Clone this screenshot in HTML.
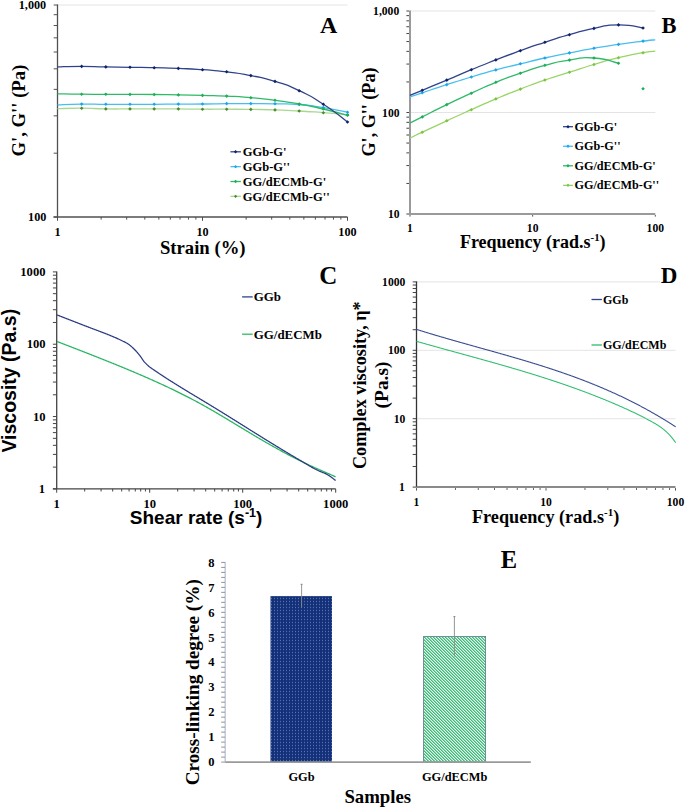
<!DOCTYPE html>
<html><head><meta charset="utf-8"><style>
html,body{margin:0;padding:0;background:#fff;}
svg{display:block;}
</style></head><body>
<svg width="685" height="811" viewBox="0 0 685 811">
<rect width="685" height="811" fill="#fff"/>
<line x1="57.50" y1="5.00" x2="347.50" y2="5.00" stroke="#e4e4e4" stroke-width="1"/>
<line x1="57.50" y1="4.50" x2="57.50" y2="217.00" stroke="#505050" stroke-width="1.3"/>
<line x1="53.50" y1="217.00" x2="347.50" y2="217.00" stroke="#505050" stroke-width="1.3"/>
<line x1="53.70" y1="217.00" x2="57.50" y2="217.00" stroke="#505050" stroke-width="1"/>
<line x1="53.70" y1="153.18" x2="57.50" y2="153.18" stroke="#505050" stroke-width="1"/>
<line x1="53.70" y1="115.85" x2="57.50" y2="115.85" stroke="#505050" stroke-width="1"/>
<line x1="53.70" y1="89.36" x2="57.50" y2="89.36" stroke="#505050" stroke-width="1"/>
<line x1="53.70" y1="68.82" x2="57.50" y2="68.82" stroke="#505050" stroke-width="1"/>
<line x1="53.70" y1="52.03" x2="57.50" y2="52.03" stroke="#505050" stroke-width="1"/>
<line x1="53.70" y1="37.84" x2="57.50" y2="37.84" stroke="#505050" stroke-width="1"/>
<line x1="53.70" y1="25.54" x2="57.50" y2="25.54" stroke="#505050" stroke-width="1"/>
<line x1="53.70" y1="14.70" x2="57.50" y2="14.70" stroke="#505050" stroke-width="1"/>
<line x1="53.70" y1="5.00" x2="57.50" y2="5.00" stroke="#505050" stroke-width="1"/>
<line x1="57.50" y1="217.00" x2="57.50" y2="220.80" stroke="#505050" stroke-width="1"/>
<line x1="101.15" y1="217.00" x2="101.15" y2="219.60" stroke="#505050" stroke-width="1"/>
<line x1="126.68" y1="217.00" x2="126.68" y2="219.60" stroke="#505050" stroke-width="1"/>
<line x1="144.80" y1="217.00" x2="144.80" y2="219.60" stroke="#505050" stroke-width="1"/>
<line x1="158.85" y1="217.00" x2="158.85" y2="219.60" stroke="#505050" stroke-width="1"/>
<line x1="170.33" y1="217.00" x2="170.33" y2="219.60" stroke="#505050" stroke-width="1"/>
<line x1="180.04" y1="217.00" x2="180.04" y2="219.60" stroke="#505050" stroke-width="1"/>
<line x1="188.45" y1="217.00" x2="188.45" y2="219.60" stroke="#505050" stroke-width="1"/>
<line x1="195.87" y1="217.00" x2="195.87" y2="219.60" stroke="#505050" stroke-width="1"/>
<line x1="202.50" y1="217.00" x2="202.50" y2="220.80" stroke="#505050" stroke-width="1"/>
<line x1="246.15" y1="217.00" x2="246.15" y2="219.60" stroke="#505050" stroke-width="1"/>
<line x1="271.68" y1="217.00" x2="271.68" y2="219.60" stroke="#505050" stroke-width="1"/>
<line x1="289.80" y1="217.00" x2="289.80" y2="219.60" stroke="#505050" stroke-width="1"/>
<line x1="303.85" y1="217.00" x2="303.85" y2="219.60" stroke="#505050" stroke-width="1"/>
<line x1="315.33" y1="217.00" x2="315.33" y2="219.60" stroke="#505050" stroke-width="1"/>
<line x1="325.04" y1="217.00" x2="325.04" y2="219.60" stroke="#505050" stroke-width="1"/>
<line x1="333.45" y1="217.00" x2="333.45" y2="219.60" stroke="#505050" stroke-width="1"/>
<line x1="340.87" y1="217.00" x2="340.87" y2="219.60" stroke="#505050" stroke-width="1"/>
<line x1="347.50" y1="217.00" x2="347.50" y2="220.80" stroke="#505050" stroke-width="1"/>
<text x="46.20" y="9.10" text-anchor="end" style="font-family:'Liberation Serif',serif;font-weight:bold;font-size:12.2px" fill="#000" >1,000</text>
<text x="46.40" y="221.10" text-anchor="end" style="font-family:'Liberation Serif',serif;font-weight:bold;font-size:12.2px" fill="#000" >100</text>
<text x="57.50" y="236.30" text-anchor="middle" style="font-family:'Liberation Serif',serif;font-weight:bold;font-size:12.2px" fill="#000" >1</text>
<text x="202.50" y="236.30" text-anchor="middle" style="font-family:'Liberation Serif',serif;font-weight:bold;font-size:12.2px" fill="#000" >10</text>
<text x="347.50" y="236.30" text-anchor="middle" style="font-family:'Liberation Serif',serif;font-weight:bold;font-size:12.2px" fill="#000" >100</text>
<text x="202.75" y="253.90" text-anchor="middle" style="font-family:'Liberation Serif',serif;font-weight:bold;font-size:18.7px" fill="#000" >Strain (%)</text>
<text transform="translate(25.30,110.60) rotate(-90)" x="0" y="0" text-anchor="middle" style="font-family:'Liberation Serif',serif;font-weight:bold;font-size:18.7px">G', G'' (Pa)</text>
<text x="328.70" y="33.30" text-anchor="middle" style="font-family:'Liberation Serif',serif;font-weight:bold;font-size:24px" fill="#000" >A</text>
<path d="M57.50,108.70 C65.56,108.53 65.56,108.13 81.67,108.20 C97.78,108.27 89.72,108.67 105.83,108.90 C121.94,109.13 113.89,108.90 130.00,108.90 C146.11,108.90 138.06,108.90 154.17,108.90 C170.28,108.90 162.22,108.80 178.33,108.90 C194.44,109.00 186.39,109.10 202.50,109.20 C218.61,109.30 210.56,109.13 226.67,109.20 C242.78,109.27 234.72,109.17 250.83,109.40 C266.94,109.63 258.89,109.37 275.00,109.90 C291.11,110.43 283.06,110.07 299.17,111.00 C315.28,111.93 307.22,111.43 323.33,112.70 C339.44,113.97 339.44,114.10 347.50,114.80" fill="none" stroke="#a8d890" stroke-width="1.3" stroke-linejoin="round"/>
<path d="M81.67,106.38L83.49,108.20L81.67,110.02L79.85,108.20Z" fill="#4f8a32"/>
<path d="M105.83,107.08L107.65,108.90L105.83,110.72L104.01,108.90Z" fill="#4f8a32"/>
<path d="M130.00,107.08L131.82,108.90L130.00,110.72L128.18,108.90Z" fill="#4f8a32"/>
<path d="M154.17,107.08L155.99,108.90L154.17,110.72L152.35,108.90Z" fill="#4f8a32"/>
<path d="M178.33,107.08L180.15,108.90L178.33,110.72L176.51,108.90Z" fill="#4f8a32"/>
<path d="M202.50,107.38L204.32,109.20L202.50,111.02L200.68,109.20Z" fill="#4f8a32"/>
<path d="M226.67,107.38L228.49,109.20L226.67,111.02L224.85,109.20Z" fill="#4f8a32"/>
<path d="M250.83,107.58L252.65,109.40L250.83,111.22L249.01,109.40Z" fill="#4f8a32"/>
<path d="M275.00,108.08L276.82,109.90L275.00,111.72L273.18,109.90Z" fill="#4f8a32"/>
<path d="M299.17,109.18L300.99,111.00L299.17,112.82L297.35,111.00Z" fill="#4f8a32"/>
<path d="M323.33,110.88L325.15,112.70L323.33,114.52L321.51,112.70Z" fill="#4f8a32"/>
<path d="M347.50,112.98L349.32,114.80L347.50,116.62L345.68,114.80Z" fill="#4f8a32"/>
<path d="M57.50,105.00 C65.56,104.70 65.56,104.33 81.67,104.10 C97.78,103.87 89.72,104.23 105.83,104.30 C121.94,104.37 113.89,104.30 130.00,104.30 C146.11,104.30 138.06,104.37 154.17,104.30 C170.28,104.23 162.22,104.20 178.33,104.10 C194.44,104.00 186.39,104.17 202.50,104.00 C218.61,103.83 210.56,103.73 226.67,103.60 C242.78,103.47 234.72,103.53 250.83,103.60 C266.94,103.67 258.89,103.50 275.00,103.80 C291.11,104.10 283.06,103.23 299.17,104.50 C315.28,105.77 307.22,105.03 323.33,107.60 C339.44,110.17 339.44,110.67 347.50,112.20" fill="none" stroke="#48bef0" stroke-width="1.3" stroke-linejoin="round"/>
<path d="M81.67,102.28L83.49,104.10L81.67,105.92L79.85,104.10Z" fill="#1aa6ee"/>
<path d="M105.83,102.48L107.65,104.30L105.83,106.12L104.01,104.30Z" fill="#1aa6ee"/>
<path d="M130.00,102.48L131.82,104.30L130.00,106.12L128.18,104.30Z" fill="#1aa6ee"/>
<path d="M154.17,102.48L155.99,104.30L154.17,106.12L152.35,104.30Z" fill="#1aa6ee"/>
<path d="M178.33,102.28L180.15,104.10L178.33,105.92L176.51,104.10Z" fill="#1aa6ee"/>
<path d="M202.50,102.18L204.32,104.00L202.50,105.82L200.68,104.00Z" fill="#1aa6ee"/>
<path d="M226.67,101.78L228.49,103.60L226.67,105.42L224.85,103.60Z" fill="#1aa6ee"/>
<path d="M250.83,101.78L252.65,103.60L250.83,105.42L249.01,103.60Z" fill="#1aa6ee"/>
<path d="M275.00,101.98L276.82,103.80L275.00,105.62L273.18,103.80Z" fill="#1aa6ee"/>
<path d="M299.17,102.68L300.99,104.50L299.17,106.32L297.35,104.50Z" fill="#1aa6ee"/>
<path d="M323.33,105.78L325.15,107.60L323.33,109.42L321.51,107.60Z" fill="#1aa6ee"/>
<path d="M347.50,110.38L349.32,112.20L347.50,114.02L345.68,112.20Z" fill="#1aa6ee"/>
<path d="M57.50,93.80 C65.56,93.93 65.56,94.03 81.67,94.20 C97.78,94.37 89.72,94.23 105.83,94.30 C121.94,94.37 113.89,94.33 130.00,94.40 C146.11,94.47 138.06,94.33 154.17,94.50 C170.28,94.67 162.22,94.60 178.33,94.90 C194.44,95.20 186.39,95.00 202.50,95.40 C218.61,95.80 210.56,95.33 226.67,96.10 C242.78,96.87 234.72,96.30 250.83,97.70 C266.94,99.10 258.89,98.20 275.00,100.30 C291.11,102.40 283.06,101.10 299.17,104.00 C315.28,106.90 307.22,105.23 323.33,109.00 C339.44,112.77 339.44,113.20 347.50,115.30" fill="none" stroke="#2fba68" stroke-width="1.3" stroke-linejoin="round"/>
<path d="M81.67,92.38L83.49,94.20L81.67,96.02L79.85,94.20Z" fill="#20ad5a"/>
<path d="M105.83,92.48L107.65,94.30L105.83,96.12L104.01,94.30Z" fill="#20ad5a"/>
<path d="M130.00,92.58L131.82,94.40L130.00,96.22L128.18,94.40Z" fill="#20ad5a"/>
<path d="M154.17,92.68L155.99,94.50L154.17,96.32L152.35,94.50Z" fill="#20ad5a"/>
<path d="M178.33,93.08L180.15,94.90L178.33,96.72L176.51,94.90Z" fill="#20ad5a"/>
<path d="M202.50,93.58L204.32,95.40L202.50,97.22L200.68,95.40Z" fill="#20ad5a"/>
<path d="M226.67,94.28L228.49,96.10L226.67,97.92L224.85,96.10Z" fill="#20ad5a"/>
<path d="M250.83,95.88L252.65,97.70L250.83,99.52L249.01,97.70Z" fill="#20ad5a"/>
<path d="M275.00,98.48L276.82,100.30L275.00,102.12L273.18,100.30Z" fill="#20ad5a"/>
<path d="M299.17,102.18L300.99,104.00L299.17,105.82L297.35,104.00Z" fill="#20ad5a"/>
<path d="M323.33,107.18L325.15,109.00L323.33,110.82L321.51,109.00Z" fill="#20ad5a"/>
<path d="M347.50,113.48L349.32,115.30L347.50,117.12L345.68,115.30Z" fill="#20ad5a"/>
<path d="M57.50,66.90 C65.56,66.73 65.56,66.40 81.67,66.40 C97.78,66.40 89.72,66.60 105.83,66.90 C121.94,67.20 113.89,67.03 130.00,67.30 C146.11,67.57 138.06,67.33 154.17,67.70 C170.28,68.07 162.22,67.73 178.33,68.40 C194.44,69.07 186.39,68.57 202.50,69.70 C218.61,70.83 210.56,69.83 226.67,71.80 C242.78,73.77 234.72,72.40 250.83,75.60 C266.94,78.80 258.89,76.37 275.00,81.40 C291.11,86.43 283.06,83.07 299.17,90.70 C315.28,98.33 307.22,93.87 323.33,104.30 C339.44,114.73 339.44,116.10 347.50,122.00" fill="none" stroke="#30438a" stroke-width="1.3" stroke-linejoin="round"/>
<path d="M81.67,64.58L83.49,66.40L81.67,68.22L79.85,66.40Z" fill="#0f236b"/>
<path d="M105.83,65.08L107.65,66.90L105.83,68.72L104.01,66.90Z" fill="#0f236b"/>
<path d="M130.00,65.48L131.82,67.30L130.00,69.12L128.18,67.30Z" fill="#0f236b"/>
<path d="M154.17,65.88L155.99,67.70L154.17,69.52L152.35,67.70Z" fill="#0f236b"/>
<path d="M178.33,66.58L180.15,68.40L178.33,70.22L176.51,68.40Z" fill="#0f236b"/>
<path d="M202.50,67.88L204.32,69.70L202.50,71.52L200.68,69.70Z" fill="#0f236b"/>
<path d="M226.67,69.98L228.49,71.80L226.67,73.62L224.85,71.80Z" fill="#0f236b"/>
<path d="M250.83,73.78L252.65,75.60L250.83,77.42L249.01,75.60Z" fill="#0f236b"/>
<path d="M275.00,79.58L276.82,81.40L275.00,83.22L273.18,81.40Z" fill="#0f236b"/>
<path d="M299.17,88.88L300.99,90.70L299.17,92.52L297.35,90.70Z" fill="#0f236b"/>
<path d="M323.33,102.48L325.15,104.30L323.33,106.12L321.51,104.30Z" fill="#0f236b"/>
<path d="M347.50,120.18L349.32,122.00L347.50,123.82L345.68,122.00Z" fill="#0f236b"/>
<line x1="230.40" y1="151.80" x2="240.90" y2="151.80" stroke="#30438a" stroke-width="1.3"/>
<path d="M235.60,150.11L237.29,151.80L235.60,153.49L233.91,151.80Z" fill="#0f236b"/>
<text x="242.80" y="156.00" text-anchor="start" style="font-family:'Liberation Serif',serif;font-weight:bold;font-size:12.5px" fill="#000" >GGb-G'</text>
<line x1="230.40" y1="166.65" x2="240.90" y2="166.65" stroke="#48bef0" stroke-width="1.3"/>
<path d="M235.60,164.96L237.29,166.65L235.60,168.34L233.91,166.65Z" fill="#1aa6ee"/>
<text x="242.80" y="170.85" text-anchor="start" style="font-family:'Liberation Serif',serif;font-weight:bold;font-size:12.5px" fill="#000" >GGb-G''</text>
<line x1="230.40" y1="181.50" x2="240.90" y2="181.50" stroke="#2fba68" stroke-width="1.3"/>
<path d="M235.60,179.81L237.29,181.50L235.60,183.19L233.91,181.50Z" fill="#20ad5a"/>
<text x="242.80" y="185.70" text-anchor="start" style="font-family:'Liberation Serif',serif;font-weight:bold;font-size:12.5px" fill="#000" >GG/dECMb-G'</text>
<line x1="230.40" y1="196.35" x2="240.90" y2="196.35" stroke="#a8d890" stroke-width="1.3"/>
<path d="M235.60,194.66L237.29,196.35L235.60,198.04L233.91,196.35Z" fill="#4f8a32"/>
<text x="242.80" y="200.55" text-anchor="start" style="font-family:'Liberation Serif',serif;font-weight:bold;font-size:12.5px" fill="#000" >GG/dECMb-G''</text>
<line x1="410.00" y1="11.00" x2="655.30" y2="11.00" stroke="#e4e4e4" stroke-width="1"/>
<line x1="410.00" y1="112.50" x2="655.30" y2="112.50" stroke="#e4e4e4" stroke-width="1"/>
<line x1="410.00" y1="10.50" x2="410.00" y2="215.00" stroke="#9a9a9a" stroke-width="2"/>
<line x1="410.00" y1="214.00" x2="655.30" y2="214.00" stroke="#9a9a9a" stroke-width="2"/>
<line x1="406.40" y1="214.00" x2="409.00" y2="214.00" stroke="#444" stroke-width="1"/>
<line x1="406.40" y1="183.45" x2="409.00" y2="183.45" stroke="#444" stroke-width="1"/>
<line x1="406.40" y1="165.57" x2="409.00" y2="165.57" stroke="#444" stroke-width="1"/>
<line x1="406.40" y1="152.89" x2="409.00" y2="152.89" stroke="#444" stroke-width="1"/>
<line x1="406.40" y1="143.05" x2="409.00" y2="143.05" stroke="#444" stroke-width="1"/>
<line x1="406.40" y1="135.02" x2="409.00" y2="135.02" stroke="#444" stroke-width="1"/>
<line x1="406.40" y1="128.22" x2="409.00" y2="128.22" stroke="#444" stroke-width="1"/>
<line x1="406.40" y1="122.34" x2="409.00" y2="122.34" stroke="#444" stroke-width="1"/>
<line x1="406.40" y1="117.14" x2="409.00" y2="117.14" stroke="#444" stroke-width="1"/>
<line x1="406.40" y1="112.50" x2="409.00" y2="112.50" stroke="#444" stroke-width="1"/>
<line x1="406.40" y1="81.95" x2="409.00" y2="81.95" stroke="#444" stroke-width="1"/>
<line x1="406.40" y1="64.07" x2="409.00" y2="64.07" stroke="#444" stroke-width="1"/>
<line x1="406.40" y1="51.39" x2="409.00" y2="51.39" stroke="#444" stroke-width="1"/>
<line x1="406.40" y1="41.55" x2="409.00" y2="41.55" stroke="#444" stroke-width="1"/>
<line x1="406.40" y1="33.52" x2="409.00" y2="33.52" stroke="#444" stroke-width="1"/>
<line x1="406.40" y1="26.72" x2="409.00" y2="26.72" stroke="#444" stroke-width="1"/>
<line x1="406.40" y1="20.84" x2="409.00" y2="20.84" stroke="#444" stroke-width="1"/>
<line x1="406.40" y1="15.64" x2="409.00" y2="15.64" stroke="#444" stroke-width="1"/>
<line x1="406.40" y1="11.00" x2="409.00" y2="11.00" stroke="#444" stroke-width="1"/>
<line x1="410.00" y1="215.00" x2="410.00" y2="216.60" stroke="#555" stroke-width="1"/>
<line x1="532.65" y1="215.00" x2="532.65" y2="216.60" stroke="#555" stroke-width="1"/>
<line x1="655.30" y1="215.00" x2="655.30" y2="216.60" stroke="#555" stroke-width="1"/>
<text x="399.20" y="15.00" text-anchor="end" style="font-family:'Liberation Serif',serif;font-weight:bold;font-size:11.6px" fill="#000" >1,000</text>
<text x="399.50" y="116.50" text-anchor="end" style="font-family:'Liberation Serif',serif;font-weight:bold;font-size:11.6px" fill="#000" >100</text>
<text x="399.50" y="218.00" text-anchor="end" style="font-family:'Liberation Serif',serif;font-weight:bold;font-size:11.6px" fill="#000" >10</text>
<text x="410.00" y="231.60" text-anchor="middle" style="font-family:'Liberation Serif',serif;font-weight:bold;font-size:11.6px" fill="#000" >1</text>
<text x="532.65" y="231.60" text-anchor="middle" style="font-family:'Liberation Serif',serif;font-weight:bold;font-size:11.6px" fill="#000" >10</text>
<text x="655.30" y="231.60" text-anchor="middle" style="font-family:'Liberation Serif',serif;font-weight:bold;font-size:11.6px" fill="#000" >100</text>
<text x="459.9" y="247.8" style="font-family:'Liberation Serif',serif;font-weight:bold;font-size:18px">Frequency (rad.s<tspan dy="-6.5" style="font-size:10.8px">-1</tspan><tspan dy="6.5">)</tspan></text>
<text transform="translate(374.60,112.00) rotate(-90)" x="0" y="0" text-anchor="middle" style="font-family:'Liberation Serif',serif;font-weight:bold;font-size:18.1px">G', G'' (Pa)</text>
<text x="669.10" y="33.00" text-anchor="middle" style="font-family:'Liberation Serif',serif;font-weight:bold;font-size:22.5px" fill="#000" >B</text>
<path d="M410.00,138.10 C414.09,136.13 410.00,137.97 422.26,132.20 C434.53,126.43 430.44,128.30 446.80,120.80 C463.15,113.30 454.97,117.00 471.32,109.70 C487.68,102.40 479.50,105.77 495.86,98.90 C512.21,92.03 504.03,95.40 520.38,89.10 C536.74,82.80 528.56,85.63 544.91,80.00 C561.27,74.37 553.09,77.37 569.45,72.20 C585.80,67.03 577.62,69.33 593.98,64.50 C610.33,59.67 602.15,61.63 618.50,57.70 C634.86,53.77 630.77,54.87 643.04,52.70 C655.30,50.53 651.21,51.70 655.30,51.20" fill="none" stroke="#9ad468" stroke-width="1.3" stroke-linejoin="round"/>
<path d="M422.26,130.38L424.08,132.20L422.26,134.02L420.44,132.20Z" fill="#7cc440"/>
<path d="M446.80,118.98L448.62,120.80L446.80,122.62L444.98,120.80Z" fill="#7cc440"/>
<path d="M471.32,107.88L473.14,109.70L471.32,111.52L469.50,109.70Z" fill="#7cc440"/>
<path d="M495.86,97.08L497.68,98.90L495.86,100.72L494.04,98.90Z" fill="#7cc440"/>
<path d="M520.38,87.28L522.21,89.10L520.38,90.92L518.56,89.10Z" fill="#7cc440"/>
<path d="M544.91,78.18L546.74,80.00L544.91,81.82L543.09,80.00Z" fill="#7cc440"/>
<path d="M569.45,70.38L571.27,72.20L569.45,74.02L567.62,72.20Z" fill="#7cc440"/>
<path d="M593.98,62.68L595.80,64.50L593.98,66.32L592.15,64.50Z" fill="#7cc440"/>
<path d="M618.50,55.88L620.33,57.70L618.50,59.52L616.68,57.70Z" fill="#7cc440"/>
<path d="M643.04,50.88L644.86,52.70L643.04,54.52L641.22,52.70Z" fill="#7cc440"/>
<path d="M410.00,96.90 C414.09,95.53 410.00,96.90 422.26,92.80 C434.53,88.70 430.44,89.87 446.80,84.60 C463.15,79.33 454.97,81.90 471.32,77.00 C487.68,72.10 479.50,74.30 495.86,69.90 C512.21,65.50 504.03,67.77 520.38,63.80 C536.74,59.83 528.56,61.63 544.91,58.00 C561.27,54.37 553.09,56.13 569.45,52.90 C585.80,49.67 577.62,51.13 593.98,48.30 C610.33,45.47 602.15,46.80 618.50,44.40 C634.86,42.00 630.77,42.63 643.04,41.10 C655.30,39.57 651.21,40.23 655.30,39.80" fill="none" stroke="#48bef0" stroke-width="1.3" stroke-linejoin="round"/>
<path d="M422.26,90.98L424.08,92.80L422.26,94.62L420.44,92.80Z" fill="#1aa6ee"/>
<path d="M446.80,82.78L448.62,84.60L446.80,86.42L444.98,84.60Z" fill="#1aa6ee"/>
<path d="M471.32,75.18L473.14,77.00L471.32,78.82L469.50,77.00Z" fill="#1aa6ee"/>
<path d="M495.86,68.08L497.68,69.90L495.86,71.72L494.04,69.90Z" fill="#1aa6ee"/>
<path d="M520.38,61.98L522.21,63.80L520.38,65.62L518.56,63.80Z" fill="#1aa6ee"/>
<path d="M544.91,56.18L546.74,58.00L544.91,59.82L543.09,58.00Z" fill="#1aa6ee"/>
<path d="M569.45,51.08L571.27,52.90L569.45,54.72L567.62,52.90Z" fill="#1aa6ee"/>
<path d="M593.98,46.48L595.80,48.30L593.98,50.12L592.15,48.30Z" fill="#1aa6ee"/>
<path d="M618.50,42.58L620.33,44.40L618.50,46.22L616.68,44.40Z" fill="#1aa6ee"/>
<path d="M643.04,39.28L644.86,41.10L643.04,42.92L641.22,41.10Z" fill="#1aa6ee"/>
<path d="M410.00,123.00 C414.09,120.97 410.00,123.03 422.26,116.90 C434.53,110.77 430.44,112.50 446.80,104.60 C463.15,96.70 454.97,100.63 471.32,93.20 C487.68,85.77 479.50,88.97 495.86,82.30 C512.21,75.63 504.03,78.87 520.38,73.20 C536.74,67.53 528.56,69.67 544.91,65.30 C561.27,60.93 553.09,62.53 569.45,60.10 C585.80,57.67 577.62,56.97 593.98,58.00 C610.33,59.03 610.33,61.47 618.50,63.20" fill="none" stroke="#2fba68" stroke-width="1.3" stroke-linejoin="round"/>
<path d="M422.26,115.08L424.08,116.90L422.26,118.72L420.44,116.90Z" fill="#20ad5a"/>
<path d="M446.80,102.78L448.62,104.60L446.80,106.42L444.98,104.60Z" fill="#20ad5a"/>
<path d="M471.32,91.38L473.14,93.20L471.32,95.02L469.50,93.20Z" fill="#20ad5a"/>
<path d="M495.86,80.48L497.68,82.30L495.86,84.12L494.04,82.30Z" fill="#20ad5a"/>
<path d="M520.38,71.38L522.21,73.20L520.38,75.02L518.56,73.20Z" fill="#20ad5a"/>
<path d="M544.91,63.48L546.74,65.30L544.91,67.12L543.09,65.30Z" fill="#20ad5a"/>
<path d="M569.45,58.28L571.27,60.10L569.45,61.92L567.62,60.10Z" fill="#20ad5a"/>
<path d="M593.98,56.18L595.80,58.00L593.98,59.82L592.15,58.00Z" fill="#20ad5a"/>
<path d="M618.50,61.38L620.33,63.20L618.50,65.02L616.68,63.20Z" fill="#20ad5a"/>
<path d="M643.04,86.98L644.86,88.80L643.04,90.62L641.22,88.80Z" fill="#20ad5a"/>
<path d="M410.00,95.40 C414.09,93.70 410.00,95.40 422.26,90.30 C434.53,85.20 430.44,86.97 446.80,80.10 C463.15,73.23 454.97,76.43 471.32,69.70 C487.68,62.97 479.50,66.23 495.86,59.90 C512.21,53.57 504.03,56.57 520.38,50.70 C536.74,44.83 528.56,47.63 544.91,42.30 C561.27,36.97 553.09,39.33 569.45,34.70 C585.80,30.07 577.62,31.67 593.98,28.40 C610.33,25.13 602.15,25.03 618.50,24.90 C634.86,24.77 634.86,26.97 643.04,28.00" fill="none" stroke="#30438a" stroke-width="1.3" stroke-linejoin="round"/>
<path d="M422.26,88.48L424.08,90.30L422.26,92.12L420.44,90.30Z" fill="#0f236b"/>
<path d="M446.80,78.28L448.62,80.10L446.80,81.92L444.98,80.10Z" fill="#0f236b"/>
<path d="M471.32,67.88L473.14,69.70L471.32,71.52L469.50,69.70Z" fill="#0f236b"/>
<path d="M495.86,58.08L497.68,59.90L495.86,61.72L494.04,59.90Z" fill="#0f236b"/>
<path d="M520.38,48.88L522.21,50.70L520.38,52.52L518.56,50.70Z" fill="#0f236b"/>
<path d="M544.91,40.48L546.74,42.30L544.91,44.12L543.09,42.30Z" fill="#0f236b"/>
<path d="M569.45,32.88L571.27,34.70L569.45,36.52L567.62,34.70Z" fill="#0f236b"/>
<path d="M593.98,26.58L595.80,28.40L593.98,30.22L592.15,28.40Z" fill="#0f236b"/>
<path d="M618.50,23.08L620.33,24.90L618.50,26.72L616.68,24.90Z" fill="#0f236b"/>
<path d="M643.04,26.18L644.86,28.00L643.04,29.82L641.22,28.00Z" fill="#0f236b"/>
<line x1="563.00" y1="126.70" x2="573.00" y2="126.70" stroke="#30438a" stroke-width="1.3"/>
<path d="M568.00,125.01L569.69,126.70L568.00,128.39L566.31,126.70Z" fill="#0f236b"/>
<text x="574.50" y="130.80" text-anchor="start" style="font-family:'Liberation Serif',serif;font-weight:bold;font-size:12.2px" fill="#000" >GGb-G'</text>
<line x1="563.00" y1="146.25" x2="573.00" y2="146.25" stroke="#48bef0" stroke-width="1.3"/>
<path d="M568.00,144.56L569.69,146.25L568.00,147.94L566.31,146.25Z" fill="#1aa6ee"/>
<text x="574.50" y="150.35" text-anchor="start" style="font-family:'Liberation Serif',serif;font-weight:bold;font-size:12.2px" fill="#000" >GGb-G''</text>
<line x1="563.00" y1="165.80" x2="573.00" y2="165.80" stroke="#2fba68" stroke-width="1.3"/>
<path d="M568.00,164.11L569.69,165.80L568.00,167.49L566.31,165.80Z" fill="#20ad5a"/>
<text x="574.50" y="169.90" text-anchor="start" style="font-family:'Liberation Serif',serif;font-weight:bold;font-size:12.2px" fill="#000" >GG/dECMb-G'</text>
<line x1="563.00" y1="185.35" x2="573.00" y2="185.35" stroke="#9ad468" stroke-width="1.3"/>
<path d="M568.00,183.66L569.69,185.35L568.00,187.04L566.31,185.35Z" fill="#7cc440"/>
<text x="574.50" y="189.45" text-anchor="start" style="font-family:'Liberation Serif',serif;font-weight:bold;font-size:12.2px" fill="#000" >GG/dECMb-G''</text>
<line x1="56.70" y1="271.40" x2="56.70" y2="488.89" stroke="#444" stroke-width="1.3"/>
<line x1="52.90" y1="488.89" x2="335.70" y2="488.89" stroke="#444" stroke-width="1.3"/>
<line x1="52.90" y1="488.89" x2="56.70" y2="488.89" stroke="#444" stroke-width="1"/>
<line x1="56.70" y1="488.89" x2="56.70" y2="492.69" stroke="#444" stroke-width="1"/>
<line x1="52.90" y1="467.12" x2="56.70" y2="467.12" stroke="#444" stroke-width="1"/>
<line x1="84.70" y1="488.89" x2="84.70" y2="491.49" stroke="#444" stroke-width="1"/>
<line x1="52.90" y1="454.38" x2="56.70" y2="454.38" stroke="#444" stroke-width="1"/>
<line x1="101.07" y1="488.89" x2="101.07" y2="491.49" stroke="#444" stroke-width="1"/>
<line x1="52.90" y1="445.34" x2="56.70" y2="445.34" stroke="#444" stroke-width="1"/>
<line x1="112.69" y1="488.89" x2="112.69" y2="491.49" stroke="#444" stroke-width="1"/>
<line x1="52.90" y1="438.33" x2="56.70" y2="438.33" stroke="#444" stroke-width="1"/>
<line x1="121.70" y1="488.89" x2="121.70" y2="491.49" stroke="#444" stroke-width="1"/>
<line x1="52.90" y1="432.61" x2="56.70" y2="432.61" stroke="#444" stroke-width="1"/>
<line x1="129.07" y1="488.89" x2="129.07" y2="491.49" stroke="#444" stroke-width="1"/>
<line x1="52.90" y1="427.76" x2="56.70" y2="427.76" stroke="#444" stroke-width="1"/>
<line x1="135.29" y1="488.89" x2="135.29" y2="491.49" stroke="#444" stroke-width="1"/>
<line x1="52.90" y1="423.57" x2="56.70" y2="423.57" stroke="#444" stroke-width="1"/>
<line x1="140.69" y1="488.89" x2="140.69" y2="491.49" stroke="#444" stroke-width="1"/>
<line x1="52.90" y1="419.87" x2="56.70" y2="419.87" stroke="#444" stroke-width="1"/>
<line x1="145.44" y1="488.89" x2="145.44" y2="491.49" stroke="#444" stroke-width="1"/>
<line x1="52.90" y1="416.56" x2="56.70" y2="416.56" stroke="#444" stroke-width="1"/>
<line x1="149.70" y1="488.89" x2="149.70" y2="492.69" stroke="#444" stroke-width="1"/>
<line x1="52.90" y1="394.79" x2="56.70" y2="394.79" stroke="#444" stroke-width="1"/>
<line x1="177.70" y1="488.89" x2="177.70" y2="491.49" stroke="#444" stroke-width="1"/>
<line x1="52.90" y1="382.05" x2="56.70" y2="382.05" stroke="#444" stroke-width="1"/>
<line x1="194.07" y1="488.89" x2="194.07" y2="491.49" stroke="#444" stroke-width="1"/>
<line x1="52.90" y1="373.01" x2="56.70" y2="373.01" stroke="#444" stroke-width="1"/>
<line x1="205.69" y1="488.89" x2="205.69" y2="491.49" stroke="#444" stroke-width="1"/>
<line x1="52.90" y1="366.00" x2="56.70" y2="366.00" stroke="#444" stroke-width="1"/>
<line x1="214.70" y1="488.89" x2="214.70" y2="491.49" stroke="#444" stroke-width="1"/>
<line x1="52.90" y1="360.28" x2="56.70" y2="360.28" stroke="#444" stroke-width="1"/>
<line x1="222.07" y1="488.89" x2="222.07" y2="491.49" stroke="#444" stroke-width="1"/>
<line x1="52.90" y1="355.43" x2="56.70" y2="355.43" stroke="#444" stroke-width="1"/>
<line x1="228.29" y1="488.89" x2="228.29" y2="491.49" stroke="#444" stroke-width="1"/>
<line x1="52.90" y1="351.24" x2="56.70" y2="351.24" stroke="#444" stroke-width="1"/>
<line x1="233.69" y1="488.89" x2="233.69" y2="491.49" stroke="#444" stroke-width="1"/>
<line x1="52.90" y1="347.54" x2="56.70" y2="347.54" stroke="#444" stroke-width="1"/>
<line x1="238.44" y1="488.89" x2="238.44" y2="491.49" stroke="#444" stroke-width="1"/>
<line x1="52.90" y1="344.23" x2="56.70" y2="344.23" stroke="#444" stroke-width="1"/>
<line x1="242.70" y1="488.89" x2="242.70" y2="492.69" stroke="#444" stroke-width="1"/>
<line x1="52.90" y1="322.46" x2="56.70" y2="322.46" stroke="#444" stroke-width="1"/>
<line x1="270.70" y1="488.89" x2="270.70" y2="491.49" stroke="#444" stroke-width="1"/>
<line x1="52.90" y1="309.72" x2="56.70" y2="309.72" stroke="#444" stroke-width="1"/>
<line x1="287.07" y1="488.89" x2="287.07" y2="491.49" stroke="#444" stroke-width="1"/>
<line x1="52.90" y1="300.68" x2="56.70" y2="300.68" stroke="#444" stroke-width="1"/>
<line x1="298.69" y1="488.89" x2="298.69" y2="491.49" stroke="#444" stroke-width="1"/>
<line x1="52.90" y1="293.67" x2="56.70" y2="293.67" stroke="#444" stroke-width="1"/>
<line x1="307.70" y1="488.89" x2="307.70" y2="491.49" stroke="#444" stroke-width="1"/>
<line x1="52.90" y1="287.95" x2="56.70" y2="287.95" stroke="#444" stroke-width="1"/>
<line x1="315.07" y1="488.89" x2="315.07" y2="491.49" stroke="#444" stroke-width="1"/>
<line x1="52.90" y1="283.10" x2="56.70" y2="283.10" stroke="#444" stroke-width="1"/>
<line x1="321.29" y1="488.89" x2="321.29" y2="491.49" stroke="#444" stroke-width="1"/>
<line x1="52.90" y1="278.91" x2="56.70" y2="278.91" stroke="#444" stroke-width="1"/>
<line x1="326.69" y1="488.89" x2="326.69" y2="491.49" stroke="#444" stroke-width="1"/>
<line x1="52.90" y1="275.21" x2="56.70" y2="275.21" stroke="#444" stroke-width="1"/>
<line x1="331.44" y1="488.89" x2="331.44" y2="491.49" stroke="#444" stroke-width="1"/>
<line x1="52.90" y1="271.90" x2="56.70" y2="271.90" stroke="#444" stroke-width="1"/>
<line x1="335.70" y1="488.89" x2="335.70" y2="492.69" stroke="#444" stroke-width="1"/>
<text x="45.50" y="276.10" text-anchor="end" style="font-family:'Liberation Serif',serif;font-weight:bold;font-size:12.6px" fill="#000" >1000</text>
<text x="45.60" y="348.43" text-anchor="end" style="font-family:'Liberation Serif',serif;font-weight:bold;font-size:12.6px" fill="#000" >100</text>
<text x="45.60" y="420.76" text-anchor="end" style="font-family:'Liberation Serif',serif;font-weight:bold;font-size:12.6px" fill="#000" >10</text>
<text x="45.00" y="493.09" text-anchor="end" style="font-family:'Liberation Serif',serif;font-weight:bold;font-size:12.6px" fill="#000" >1</text>
<text x="56.70" y="508.20" text-anchor="middle" style="font-family:'Liberation Serif',serif;font-weight:bold;font-size:12.6px" fill="#000" >1</text>
<text x="149.70" y="508.20" text-anchor="middle" style="font-family:'Liberation Serif',serif;font-weight:bold;font-size:12.6px" fill="#000" >10</text>
<text x="242.70" y="508.20" text-anchor="middle" style="font-family:'Liberation Serif',serif;font-weight:bold;font-size:12.6px" fill="#000" >100</text>
<text x="335.70" y="508.20" text-anchor="middle" style="font-family:'Liberation Serif',serif;font-weight:bold;font-size:12.6px" fill="#000" >1000</text>
<text x="129.8" y="523.6" style="font-family:'Liberation Sans',sans-serif;font-weight:bold;font-size:19px">Shear rate (s<tspan dy="-7" style="font-size:12.5px">-1</tspan><tspan dy="7">)</tspan></text>
<text transform="translate(16.30,380.70) rotate(-90)" x="0" y="0" text-anchor="middle" style="font-family:'Liberation Sans',sans-serif;font-weight:bold;font-size:19.5px">Viscosity (Pa.s)</text>
<text x="328.20" y="283.60" text-anchor="middle" style="font-family:'Liberation Serif',serif;font-weight:bold;font-size:25px" fill="#000" >C</text>
<polyline points="57.00,341.48 57.50,341.68 58.00,341.87 58.50,342.06 59.00,342.26 59.50,342.45 60.00,342.64 60.50,342.84 61.00,343.03 61.50,343.22 62.00,343.42 62.50,343.61 63.00,343.80 63.50,344.00 64.00,344.19 64.50,344.38 65.00,344.58 65.50,344.77 66.00,344.96 66.50,345.16 67.00,345.35 67.50,345.54 68.00,345.74 68.50,345.93 69.00,346.12 69.50,346.32 70.00,346.51 70.50,346.70 71.00,346.90 71.50,347.09 72.00,347.28 72.50,347.48 73.00,347.67 73.50,347.87 74.00,348.06 74.50,348.25 75.00,348.45 75.50,348.64 76.00,348.83 76.50,349.03 77.00,349.22 77.50,349.42 78.00,349.61 78.50,349.80 79.00,350.00 79.50,350.19 80.00,350.39 80.50,350.58 81.00,350.77 81.50,350.97 82.00,351.16 82.50,351.36 83.00,351.55 83.50,351.75 84.00,351.94 84.50,352.14 85.00,352.33 85.50,352.53 86.00,352.72 86.50,352.92 87.00,353.11 87.50,353.31 88.00,353.50 88.50,353.70 89.00,353.89 89.50,354.09 90.00,354.28 90.50,354.48 91.00,354.67 91.50,354.87 92.00,355.07 92.50,355.26 93.00,355.46 93.50,355.66 94.00,355.85 94.50,356.05 95.00,356.25 95.50,356.44 96.00,356.64 96.50,356.84 97.00,357.03 97.50,357.23 98.00,357.43 98.50,357.63 99.00,357.82 99.50,358.02 100.00,358.22 100.50,358.42 101.00,358.62 101.50,358.81 102.00,359.01 102.50,359.21 103.00,359.41 103.50,359.61 104.00,359.81 104.50,360.01 105.00,360.21 105.50,360.41 106.00,360.61 106.50,360.81 107.00,361.01 107.50,361.21 108.00,361.41 108.50,361.61 109.00,361.81 109.50,362.01 110.00,362.21 110.50,362.41 111.00,362.61 111.50,362.82 112.00,363.02 112.50,363.22 113.00,363.42 113.50,363.62 114.00,363.83 114.50,364.03 115.00,364.23 115.50,364.44 116.00,364.64 116.50,364.84 117.00,365.05 117.50,365.25 118.00,365.46 118.50,365.66 119.00,365.86 119.50,366.07 120.00,366.27 120.50,366.48 121.00,366.69 121.50,366.89 122.00,367.10 122.50,367.30 123.00,367.51 123.50,367.72 124.00,367.92 124.50,368.13 125.00,368.34 125.50,368.55 126.00,368.75 126.50,368.96 127.00,369.17 127.50,369.38 128.00,369.59 128.50,369.80 129.00,370.01 129.50,370.21 130.00,370.42 130.50,370.63 131.00,370.85 131.50,371.06 132.00,371.27 132.50,371.48 133.00,371.69 133.50,371.90 134.00,372.11 134.50,372.32 135.00,372.54 135.50,372.75 136.00,372.96 136.50,373.18 137.00,373.39 137.50,373.60 138.00,373.82 138.50,374.03 139.00,374.25 139.50,374.46 140.00,374.68 140.50,374.89 141.00,375.11 141.50,375.33 142.00,375.54 142.50,375.76 143.00,375.98 143.50,376.19 144.00,376.41 144.50,376.63 145.00,376.85 145.50,377.07 146.00,377.29 146.50,377.50 147.00,377.72 147.50,377.94 148.00,378.16 148.50,378.39 149.00,378.61 149.50,378.83 150.00,379.05 150.50,379.27 151.00,379.49 151.50,379.72 152.00,379.94 152.50,380.16 153.00,380.39 153.50,380.61 154.00,380.84 154.50,381.06 155.00,381.29 155.50,381.51 156.00,381.74 156.50,381.96 157.00,382.19 157.50,382.42 158.00,382.64 158.50,382.87 159.00,383.10 159.50,383.33 160.00,383.56 160.50,383.79 161.00,384.01 161.50,384.24 162.00,384.48 162.50,384.71 163.00,384.94 163.50,385.17 164.00,385.40 164.50,385.63 165.00,385.87 165.50,386.10 166.00,386.33 166.50,386.57 167.00,386.80 167.50,387.04 168.00,387.27 168.50,387.51 169.00,387.74 169.50,387.98 170.00,388.22 170.50,388.46 171.00,388.69 171.50,388.93 172.00,389.17 172.50,389.41 173.00,389.65 173.50,389.89 174.00,390.13 174.50,390.38 175.00,390.62 175.50,390.86 176.00,391.10 176.50,391.35 177.00,391.59 177.50,391.84 178.00,392.08 178.50,392.33 179.00,392.58 179.50,392.82 180.00,393.07 180.50,393.32 181.00,393.57 181.50,393.82 182.00,394.07 182.50,394.32 183.00,394.57 183.50,394.82 184.00,395.07 184.50,395.32 185.00,395.58 185.50,395.83 186.00,396.09 186.50,396.34 187.00,396.60 187.50,396.85 188.00,397.11 188.50,397.37 189.00,397.63 189.50,397.89 190.00,398.15 190.50,398.41 191.00,398.67 191.50,398.93 192.00,399.19 192.50,399.46 193.00,399.72 193.50,399.98 194.00,400.25 194.50,400.51 195.00,400.78 195.50,401.05 196.00,401.32 196.50,401.58 197.00,401.85 197.50,402.12 198.00,402.39 198.50,402.67 199.00,402.94 199.50,403.21 200.00,403.48 200.50,403.76 201.00,404.03 201.50,404.31 202.00,404.59 202.50,404.86 203.00,405.14 203.50,405.42 204.00,405.70 204.50,405.98 205.00,406.26 205.50,406.54 206.00,406.82 206.50,407.10 207.00,407.39 207.50,407.67 208.00,407.96 208.50,408.24 209.00,408.53 209.50,408.81 210.00,409.10 210.50,409.39 211.00,409.67 211.50,409.96 212.00,410.25 212.50,410.54 213.00,410.83 213.50,411.12 214.00,411.41 214.50,411.70 215.00,411.99 215.50,412.28 216.00,412.58 216.50,412.87 217.00,413.16 217.50,413.46 218.00,413.75 218.50,414.05 219.00,414.34 219.50,414.64 220.00,414.93 220.50,415.23 221.00,415.52 221.50,415.82 222.00,416.12 222.50,416.41 223.00,416.71 223.50,417.01 224.00,417.31 224.50,417.61 225.00,417.91 225.50,418.20 226.00,418.50 226.50,418.80 227.00,419.10 227.50,419.40 228.00,419.70 228.50,420.00 229.00,420.30 229.50,420.60 230.00,420.90 230.50,421.21 231.00,421.51 231.50,421.81 232.00,422.11 232.50,422.41 233.00,422.71 233.50,423.01 234.00,423.32 234.50,423.62 235.00,423.92 235.50,424.22 236.00,424.52 236.50,424.83 237.00,425.13 237.50,425.43 238.00,425.73 238.50,426.04 239.00,426.34 239.50,426.64 240.00,426.94 240.50,427.24 241.00,427.55 241.50,427.85 242.00,428.15 242.50,428.45 243.00,428.75 243.50,429.06 244.00,429.36 244.50,429.66 245.00,429.96 245.50,430.26 246.00,430.56 246.50,430.86 247.00,431.16 247.50,431.46 248.00,431.77 248.50,432.07 249.00,432.37 249.50,432.67 250.00,432.96 250.50,433.26 251.00,433.56 251.50,433.86 252.00,434.16 252.50,434.46 253.00,434.76 253.50,435.06 254.00,435.35 254.50,435.65 255.00,435.95 255.50,436.24 256.00,436.54 256.50,436.84 257.00,437.13 257.50,437.43 258.00,437.72 258.50,438.02 259.00,438.31 259.50,438.60 260.00,438.90 260.50,439.19 261.00,439.48 261.50,439.78 262.00,440.07 262.50,440.36 263.00,440.65 263.50,440.94 264.00,441.23 264.50,441.52 265.00,441.81 265.50,442.10 266.00,442.39 266.50,442.68 267.00,442.97 267.50,443.25 268.00,443.54 268.50,443.83 269.00,444.11 269.50,444.40 270.00,444.68 270.50,444.97 271.00,445.25 271.50,445.54 272.00,445.82 272.50,446.10 273.00,446.39 273.50,446.67 274.00,446.95 274.50,447.23 275.00,447.51 275.50,447.79 276.00,448.07 276.50,448.35 277.00,448.62 277.50,448.90 278.00,449.18 278.50,449.45 279.00,449.73 279.50,450.01 280.00,450.28 280.50,450.55 281.00,450.83 281.50,451.10 282.00,451.37 282.50,451.64 283.00,451.92 283.50,452.19 284.00,452.46 284.50,452.73 285.00,452.99 285.50,453.26 286.00,453.53 286.50,453.80 287.00,454.06 287.50,454.33 288.00,454.59 288.50,454.86 289.00,455.12 289.50,455.38 290.00,455.64 290.50,455.90 291.00,456.16 291.50,456.42 292.00,456.68 292.50,456.94 293.00,457.20 293.50,457.46 294.00,457.71 294.50,457.97 295.00,458.22 295.50,458.48 296.00,458.73 296.50,458.98 297.00,459.23 297.50,459.49 298.00,459.74 298.50,459.98 299.00,460.23 299.50,460.48 300.00,460.73 300.50,460.97 301.00,461.22 301.50,461.46 302.00,461.71 302.50,461.95 303.00,462.19 303.50,462.43 304.00,462.67 304.50,462.91 305.00,463.15 305.50,463.39 306.00,463.63 306.50,463.86 307.00,464.10 307.50,464.33 308.00,464.57 308.50,464.80 309.00,465.03 309.50,465.26 310.00,465.49 310.50,465.72 311.00,465.95 311.50,466.18 312.00,466.40 312.50,466.63 313.00,466.86 313.50,467.08 314.00,467.30 314.50,467.53 315.00,467.75 315.50,467.97 316.00,468.20 316.50,468.42 317.00,468.64 317.50,468.86 318.00,469.08 318.50,469.30 319.00,469.52 319.50,469.74 320.00,469.96 320.50,470.17 321.00,470.39 321.50,470.61 322.00,470.83 322.50,471.05 323.00,471.27 323.50,471.48 324.00,471.70 324.50,471.92 325.00,472.14 325.50,472.36 326.00,472.57 326.50,472.79 327.00,473.01 327.50,473.23 328.00,473.45 328.50,473.67 329.00,473.89 329.50,474.11 330.00,474.33 330.50,474.55 331.00,474.77 331.50,474.99 332.00,475.21 332.50,475.44 333.00,475.66 333.50,475.88 334.00,476.11 334.50,476.33 335.00,476.56 335.50,476.78 335.60,476.83" fill="none" stroke="#27b562" stroke-width="1.25" stroke-linejoin="round"/>
<polyline points="57.00,314.90 57.50,315.10 58.00,315.29 58.50,315.49 59.00,315.68 59.50,315.88 60.00,316.07 60.50,316.27 61.00,316.46 61.50,316.66 62.00,316.85 62.50,317.05 63.00,317.24 63.50,317.44 64.00,317.63 64.50,317.83 65.00,318.02 65.50,318.21 66.00,318.41 66.50,318.60 67.00,318.80 67.50,318.99 68.00,319.19 68.50,319.38 69.00,319.58 69.50,319.77 70.00,319.97 70.50,320.16 71.00,320.36 71.50,320.55 72.00,320.75 72.50,320.94 73.00,321.14 73.50,321.33 74.00,321.52 74.50,321.72 75.00,321.91 75.50,322.11 76.00,322.30 76.50,322.50 77.00,322.69 77.50,322.89 78.00,323.08 78.50,323.27 79.00,323.47 79.50,323.66 80.00,323.86 80.50,324.05 81.00,324.25 81.50,324.44 82.00,324.63 82.50,324.83 83.00,325.02 83.50,325.22 84.00,325.41 84.50,325.61 85.00,325.80 85.50,325.99 86.00,326.19 86.50,326.38 87.00,326.57 87.50,326.76 88.00,326.95 88.50,327.14 89.00,327.33 89.50,327.52 90.00,327.71 90.50,327.90 91.00,328.09 91.50,328.28 92.00,328.47 92.50,328.66 93.00,328.84 93.50,329.03 94.00,329.22 94.50,329.41 95.00,329.59 95.50,329.78 96.00,329.97 96.50,330.16 97.00,330.34 97.50,330.53 98.00,330.72 98.50,330.91 99.00,331.10 99.50,331.29 100.00,331.48 100.50,331.66 101.00,331.86 101.50,332.05 102.00,332.24 102.50,332.43 103.00,332.62 103.50,332.81 104.00,333.01 104.50,333.20 105.00,333.39 105.50,333.59 106.00,333.79 106.50,333.98 107.00,334.18 107.50,334.38 108.00,334.58 108.50,334.78 109.00,334.98 109.50,335.18 110.00,335.39 110.50,335.59 111.00,335.80 111.50,336.00 112.00,336.21 112.50,336.42 113.00,336.63 113.50,336.84 114.00,337.06 114.50,337.27 115.00,337.49 115.50,337.70 116.00,337.92 116.50,338.14 117.00,338.36 117.50,338.59 118.00,338.81 118.50,339.04 119.00,339.27 119.50,339.50 120.00,339.74 120.50,339.98 121.00,340.21 121.50,340.46 122.00,340.70 122.50,340.95 123.00,341.19 123.50,341.44 124.00,341.68 124.50,341.93 125.00,342.18 125.50,342.44 126.00,342.71 126.50,342.99 127.00,343.28 127.50,343.58 128.00,343.90 128.50,344.24 129.00,344.60 129.50,344.98 130.00,345.37 130.50,345.79 131.00,346.21 131.50,346.65 132.00,347.11 132.50,347.57 133.00,348.04 133.50,348.51 134.00,348.99 134.50,349.49 135.00,350.00 135.50,350.52 136.00,351.05 136.50,351.60 137.00,352.16 137.50,352.74 138.00,353.32 138.50,353.92 139.00,354.53 139.50,355.15 140.00,355.79 140.50,356.48 141.00,357.21 141.50,357.96 142.00,358.72 142.50,359.47 143.00,360.20 143.50,360.88 144.00,361.50 144.50,362.08 145.00,362.63 145.50,363.17 146.00,363.68 146.50,364.18 147.00,364.66 147.50,365.12 148.00,365.57 148.50,366.00 149.00,366.42 149.50,366.82 150.00,367.21 150.50,367.58 151.00,367.95 151.50,368.31 152.00,368.66 152.50,369.00 153.00,369.35 153.50,369.68 154.00,370.02 154.50,370.36 155.00,370.70 155.50,371.04 156.00,371.38 156.50,371.72 157.00,372.06 157.50,372.39 158.00,372.73 158.50,373.07 159.00,373.40 159.50,373.73 160.00,374.07 160.50,374.40 161.00,374.73 161.50,375.06 162.00,375.39 162.50,375.72 163.00,376.05 163.50,376.38 164.00,376.70 164.50,377.03 165.00,377.35 165.50,377.68 166.00,378.00 166.50,378.32 167.00,378.65 167.50,378.97 168.00,379.29 168.50,379.61 169.00,379.93 169.50,380.25 170.00,380.57 170.50,380.88 171.00,381.20 171.50,381.52 172.00,381.83 172.50,382.15 173.00,382.46 173.50,382.78 174.00,383.09 174.50,383.41 175.00,383.72 175.50,384.03 176.00,384.34 176.50,384.65 177.00,384.96 177.50,385.28 178.00,385.59 178.50,385.89 179.00,386.20 179.50,386.51 180.00,386.82 180.50,387.13 181.00,387.44 181.50,387.74 182.00,388.05 182.50,388.36 183.00,388.66 183.50,388.97 184.00,389.27 184.50,389.58 185.00,389.88 185.50,390.19 186.00,390.49 186.50,390.79 187.00,391.10 187.50,391.40 188.00,391.70 188.50,392.01 189.00,392.31 189.50,392.61 190.00,392.92 190.50,393.22 191.00,393.52 191.50,393.82 192.00,394.12 192.50,394.42 193.00,394.73 193.50,395.03 194.00,395.33 194.50,395.63 195.00,395.93 195.50,396.23 196.00,396.53 196.50,396.83 197.00,397.13 197.50,397.43 198.00,397.73 198.50,398.03 199.00,398.34 199.50,398.64 200.00,398.94 200.50,399.24 201.00,399.54 201.50,399.84 202.00,400.14 202.50,400.44 203.00,400.74 203.50,401.04 204.00,401.34 204.50,401.64 205.00,401.95 205.50,402.25 206.00,402.55 206.50,402.85 207.00,403.15 207.50,403.46 208.00,403.76 208.50,404.06 209.00,404.36 209.50,404.67 210.00,404.97 210.50,405.27 211.00,405.58 211.50,405.88 212.00,406.19 212.50,406.49 213.00,406.79 213.50,407.10 214.00,407.41 214.50,407.71 215.00,408.02 215.50,408.32 216.00,408.63 216.50,408.94 217.00,409.25 217.50,409.55 218.00,409.86 218.50,410.17 219.00,410.48 219.50,410.79 220.00,411.10 220.50,411.41 221.00,411.72 221.50,412.03 222.00,412.34 222.50,412.65 223.00,412.96 223.50,413.28 224.00,413.59 224.50,413.90 225.00,414.21 225.50,414.52 226.00,414.83 226.50,415.14 227.00,415.46 227.50,415.77 228.00,416.08 228.50,416.39 229.00,416.70 229.50,417.02 230.00,417.33 230.50,417.64 231.00,417.95 231.50,418.27 232.00,418.58 232.50,418.89 233.00,419.20 233.50,419.52 234.00,419.83 234.50,420.14 235.00,420.46 235.50,420.77 236.00,421.08 236.50,421.39 237.00,421.71 237.50,422.02 238.00,422.33 238.50,422.65 239.00,422.96 239.50,423.27 240.00,423.59 240.50,423.90 241.00,424.21 241.50,424.52 242.00,424.84 242.50,425.15 243.00,425.46 243.50,425.78 244.00,426.09 244.50,426.40 245.00,426.72 245.50,427.03 246.00,427.34 246.50,427.65 247.00,427.97 247.50,428.28 248.00,428.59 248.50,428.91 249.00,429.22 249.50,429.53 250.00,429.84 250.50,430.16 251.00,430.47 251.50,430.78 252.00,431.09 252.50,431.41 253.00,431.72 253.50,432.03 254.00,432.34 254.50,432.65 255.00,432.97 255.50,433.28 256.00,433.59 256.50,433.90 257.00,434.21 257.50,434.52 258.00,434.83 258.50,435.15 259.00,435.46 259.50,435.77 260.00,436.08 260.50,436.39 261.00,436.70 261.50,437.01 262.00,437.32 262.50,437.63 263.00,437.94 263.50,438.25 264.00,438.56 264.50,438.87 265.00,439.18 265.50,439.49 266.00,439.80 266.50,440.11 267.00,440.42 267.50,440.72 268.00,441.03 268.50,441.34 269.00,441.65 269.50,441.96 270.00,442.26 270.50,442.57 271.00,442.88 271.50,443.19 272.00,443.49 272.50,443.80 273.00,444.11 273.50,444.41 274.00,444.72 274.50,445.03 275.00,445.33 275.50,445.64 276.00,445.94 276.50,446.25 277.00,446.55 277.50,446.86 278.00,447.16 278.50,447.47 279.00,447.77 279.50,448.07 280.00,448.38 280.50,448.68 281.00,448.98 281.50,449.29 282.00,449.59 282.50,449.89 283.00,450.19 283.50,450.50 284.00,450.80 284.50,451.10 285.00,451.40 285.50,451.70 286.00,452.00 286.50,452.30 287.00,452.60 287.50,452.90 288.00,453.20 288.50,453.49 289.00,453.79 289.50,454.09 290.00,454.39 290.50,454.68 291.00,454.98 291.50,455.27 292.00,455.57 292.50,455.86 293.00,456.16 293.50,456.45 294.00,456.75 294.50,457.04 295.00,457.34 295.50,457.63 296.00,457.92 296.50,458.21 297.00,458.51 297.50,458.80 298.00,459.09 298.50,459.38 299.00,459.68 299.50,459.97 300.00,460.26 300.50,460.55 301.00,460.84 301.50,461.13 302.00,461.43 302.50,461.72 303.00,462.02 303.50,462.32 304.00,462.62 304.50,462.92 305.00,463.22 305.50,463.52 306.00,463.83 306.50,464.13 307.00,464.43 307.50,464.73 308.00,465.03 308.50,465.33 309.00,465.63 309.50,465.93 310.00,466.22 310.50,466.51 311.00,466.81 311.50,467.09 312.00,467.38 312.50,467.66 313.00,467.94 313.50,468.22 314.00,468.50 314.50,468.77 315.00,469.03 315.50,469.29 316.00,469.55 316.50,469.80 317.00,470.05 317.50,470.29 318.00,470.52 318.50,470.74 319.00,470.96 319.50,471.17 320.00,471.37 320.50,471.57 321.00,471.76 321.50,471.96 322.00,472.15 322.50,472.35 323.00,472.55 323.50,472.76 324.00,472.97 324.50,473.18 325.00,473.41 325.50,473.64 326.00,473.88 326.50,474.14 327.00,474.41 327.50,474.69 328.00,474.98 328.50,475.29 329.00,475.60 329.50,475.93 330.00,476.27 330.50,476.61 331.00,476.97 331.50,477.33 332.00,477.70 332.50,478.08 333.00,478.47 333.50,478.87 334.00,479.27 334.50,479.68 335.00,480.09 335.50,480.52 335.60,480.60" fill="none" stroke="#2a3b82" stroke-width="1.25" stroke-linejoin="round"/>
<line x1="242.10" y1="296.90" x2="252.70" y2="296.90" stroke="#30438a" stroke-width="1.3"/>
<text x="253.80" y="301.30" text-anchor="start" style="font-family:'Liberation Serif',serif;font-weight:bold;font-size:12.9px" fill="#000" >GGb</text>
<line x1="242.10" y1="334.20" x2="252.70" y2="334.20" stroke="#2fba68" stroke-width="1.3"/>
<text x="253.80" y="338.60" text-anchor="start" style="font-family:'Liberation Serif',serif;font-weight:bold;font-size:12.9px" fill="#000" >GG/dECMb</text>
<line x1="416.50" y1="281.90" x2="675.50" y2="281.90" stroke="#e4e4e4" stroke-width="1"/>
<line x1="416.50" y1="350.30" x2="675.50" y2="350.30" stroke="#e4e4e4" stroke-width="1"/>
<line x1="416.50" y1="418.70" x2="675.50" y2="418.70" stroke="#e4e4e4" stroke-width="1"/>
<line x1="416.50" y1="281.40" x2="416.50" y2="487.10" stroke="#333" stroke-width="1.3"/>
<line x1="416.50" y1="487.10" x2="675.50" y2="487.10" stroke="#8a8a8a" stroke-width="2"/>
<line x1="412.70" y1="487.10" x2="416.50" y2="487.10" stroke="#444" stroke-width="1"/>
<line x1="412.70" y1="466.51" x2="416.50" y2="466.51" stroke="#444" stroke-width="1"/>
<line x1="412.70" y1="454.46" x2="416.50" y2="454.46" stroke="#444" stroke-width="1"/>
<line x1="412.70" y1="445.92" x2="416.50" y2="445.92" stroke="#444" stroke-width="1"/>
<line x1="412.70" y1="439.29" x2="416.50" y2="439.29" stroke="#444" stroke-width="1"/>
<line x1="412.70" y1="433.87" x2="416.50" y2="433.87" stroke="#444" stroke-width="1"/>
<line x1="412.70" y1="429.30" x2="416.50" y2="429.30" stroke="#444" stroke-width="1"/>
<line x1="412.70" y1="425.33" x2="416.50" y2="425.33" stroke="#444" stroke-width="1"/>
<line x1="412.70" y1="421.83" x2="416.50" y2="421.83" stroke="#444" stroke-width="1"/>
<line x1="412.70" y1="418.70" x2="416.50" y2="418.70" stroke="#444" stroke-width="1"/>
<line x1="412.70" y1="398.11" x2="416.50" y2="398.11" stroke="#444" stroke-width="1"/>
<line x1="412.70" y1="386.06" x2="416.50" y2="386.06" stroke="#444" stroke-width="1"/>
<line x1="412.70" y1="377.52" x2="416.50" y2="377.52" stroke="#444" stroke-width="1"/>
<line x1="412.70" y1="370.89" x2="416.50" y2="370.89" stroke="#444" stroke-width="1"/>
<line x1="412.70" y1="365.47" x2="416.50" y2="365.47" stroke="#444" stroke-width="1"/>
<line x1="412.70" y1="360.90" x2="416.50" y2="360.90" stroke="#444" stroke-width="1"/>
<line x1="412.70" y1="356.93" x2="416.50" y2="356.93" stroke="#444" stroke-width="1"/>
<line x1="412.70" y1="353.43" x2="416.50" y2="353.43" stroke="#444" stroke-width="1"/>
<line x1="412.70" y1="350.30" x2="416.50" y2="350.30" stroke="#444" stroke-width="1"/>
<line x1="412.70" y1="329.71" x2="416.50" y2="329.71" stroke="#444" stroke-width="1"/>
<line x1="412.70" y1="317.66" x2="416.50" y2="317.66" stroke="#444" stroke-width="1"/>
<line x1="412.70" y1="309.12" x2="416.50" y2="309.12" stroke="#444" stroke-width="1"/>
<line x1="412.70" y1="302.49" x2="416.50" y2="302.49" stroke="#444" stroke-width="1"/>
<line x1="412.70" y1="297.07" x2="416.50" y2="297.07" stroke="#444" stroke-width="1"/>
<line x1="412.70" y1="292.50" x2="416.50" y2="292.50" stroke="#444" stroke-width="1"/>
<line x1="412.70" y1="288.53" x2="416.50" y2="288.53" stroke="#444" stroke-width="1"/>
<line x1="412.70" y1="285.03" x2="416.50" y2="285.03" stroke="#444" stroke-width="1"/>
<line x1="416.50" y1="488.10" x2="416.50" y2="490.60" stroke="#555" stroke-width="1"/>
<line x1="455.48" y1="488.10" x2="455.48" y2="489.90" stroke="#555" stroke-width="1"/>
<line x1="478.29" y1="488.10" x2="478.29" y2="489.90" stroke="#555" stroke-width="1"/>
<line x1="494.47" y1="488.10" x2="494.47" y2="489.90" stroke="#555" stroke-width="1"/>
<line x1="507.02" y1="488.10" x2="507.02" y2="489.90" stroke="#555" stroke-width="1"/>
<line x1="517.27" y1="488.10" x2="517.27" y2="489.90" stroke="#555" stroke-width="1"/>
<line x1="525.94" y1="488.10" x2="525.94" y2="489.90" stroke="#555" stroke-width="1"/>
<line x1="533.45" y1="488.10" x2="533.45" y2="489.90" stroke="#555" stroke-width="1"/>
<line x1="540.07" y1="488.10" x2="540.07" y2="489.90" stroke="#555" stroke-width="1"/>
<line x1="546.00" y1="488.10" x2="546.00" y2="490.60" stroke="#555" stroke-width="1"/>
<line x1="584.98" y1="488.10" x2="584.98" y2="489.90" stroke="#555" stroke-width="1"/>
<line x1="607.79" y1="488.10" x2="607.79" y2="489.90" stroke="#555" stroke-width="1"/>
<line x1="623.97" y1="488.10" x2="623.97" y2="489.90" stroke="#555" stroke-width="1"/>
<line x1="636.52" y1="488.10" x2="636.52" y2="489.90" stroke="#555" stroke-width="1"/>
<line x1="646.77" y1="488.10" x2="646.77" y2="489.90" stroke="#555" stroke-width="1"/>
<line x1="655.44" y1="488.10" x2="655.44" y2="489.90" stroke="#555" stroke-width="1"/>
<line x1="662.95" y1="488.10" x2="662.95" y2="489.90" stroke="#555" stroke-width="1"/>
<line x1="669.57" y1="488.10" x2="669.57" y2="489.90" stroke="#555" stroke-width="1"/>
<line x1="412.70" y1="281.90" x2="416.50" y2="281.90" stroke="#444" stroke-width="1"/>
<line x1="675.50" y1="488.10" x2="675.50" y2="490.60" stroke="#555" stroke-width="1"/>
<text x="405.30" y="286.00" text-anchor="end" style="font-family:'Liberation Serif',serif;font-weight:bold;font-size:11.6px" fill="#000" >1000</text>
<text x="405.30" y="354.40" text-anchor="end" style="font-family:'Liberation Serif',serif;font-weight:bold;font-size:11.6px" fill="#000" >100</text>
<text x="405.30" y="422.80" text-anchor="end" style="font-family:'Liberation Serif',serif;font-weight:bold;font-size:11.6px" fill="#000" >10</text>
<text x="404.80" y="491.20" text-anchor="end" style="font-family:'Liberation Serif',serif;font-weight:bold;font-size:11.6px" fill="#000" >1</text>
<text x="416.50" y="505.80" text-anchor="middle" style="font-family:'Liberation Serif',serif;font-weight:bold;font-size:11.6px" fill="#000" >1</text>
<text x="546.00" y="505.80" text-anchor="middle" style="font-family:'Liberation Serif',serif;font-weight:bold;font-size:11.6px" fill="#000" >10</text>
<text x="675.50" y="505.80" text-anchor="middle" style="font-family:'Liberation Serif',serif;font-weight:bold;font-size:11.6px" fill="#000" >100</text>
<text x="472" y="522.9" style="font-family:'Liberation Serif',serif;font-weight:bold;font-size:18.2px">Frequency (rad.s<tspan dy="-6.5" style="font-size:11px">-1</tspan><tspan dy="6.5">)</tspan></text>
<text transform="translate(366.2,385.2) rotate(-90) scale(0.96,1)" text-anchor="middle" style="font-family:'Liberation Serif',serif;font-weight:bold;font-size:19px">Complex viscosity, η*</text>
<text transform="translate(388.20,385.00) rotate(-90)" x="0" y="0" text-anchor="middle" style="font-family:'Liberation Serif',serif;font-weight:bold;font-size:19.4px">(Pa.s)</text>
<rect x="660" y="266" width="20" height="19" fill="#fff"/>
<text x="669.00" y="283.30" text-anchor="middle" style="font-family:'Liberation Serif',serif;font-weight:bold;font-size:23.0px" fill="#000" >D</text>
<polyline points="416.50,341.32 417.00,341.46 417.50,341.61 418.00,341.75 418.50,341.89 419.00,342.04 419.50,342.18 420.00,342.32 420.50,342.46 421.00,342.60 421.50,342.75 422.00,342.89 422.50,343.03 423.00,343.17 423.50,343.31 424.00,343.45 424.50,343.59 425.00,343.74 425.50,343.88 426.00,344.02 426.50,344.16 427.00,344.30 427.50,344.44 428.00,344.58 428.50,344.72 429.00,344.86 429.50,345.00 430.00,345.14 430.50,345.28 431.00,345.42 431.50,345.56 432.00,345.70 432.50,345.84 433.00,345.98 433.50,346.12 434.00,346.26 434.50,346.40 435.00,346.53 435.50,346.67 436.00,346.81 436.50,346.95 437.00,347.09 437.50,347.23 438.00,347.37 438.50,347.51 439.00,347.65 439.50,347.78 440.00,347.92 440.50,348.06 441.00,348.20 441.50,348.34 442.00,348.48 442.50,348.61 443.00,348.75 443.50,348.89 444.00,349.03 444.50,349.17 445.00,349.30 445.50,349.44 446.00,349.58 446.50,349.72 447.00,349.85 447.50,349.99 448.00,350.13 448.50,350.27 449.00,350.41 449.50,350.54 450.00,350.68 450.50,350.82 451.00,350.96 451.50,351.09 452.00,351.23 452.50,351.37 453.00,351.51 453.50,351.64 454.00,351.78 454.50,351.92 455.00,352.05 455.50,352.19 456.00,352.33 456.50,352.47 457.00,352.60 457.50,352.74 458.00,352.88 458.50,353.02 459.00,353.15 459.50,353.29 460.00,353.43 460.50,353.56 461.00,353.70 461.50,353.84 462.00,353.98 462.50,354.11 463.00,354.25 463.50,354.39 464.00,354.53 464.50,354.66 465.00,354.80 465.50,354.94 466.00,355.08 466.50,355.21 467.00,355.35 467.50,355.49 468.00,355.63 468.50,355.76 469.00,355.90 469.50,356.04 470.00,356.18 470.50,356.31 471.00,356.45 471.50,356.59 472.00,356.73 472.50,356.86 473.00,357.00 473.50,357.14 474.00,357.28 474.50,357.42 475.00,357.55 475.50,357.69 476.00,357.83 476.50,357.97 477.00,358.11 477.50,358.25 478.00,358.38 478.50,358.52 479.00,358.66 479.50,358.80 480.00,358.94 480.50,359.08 481.00,359.22 481.50,359.35 482.00,359.49 482.50,359.63 483.00,359.77 483.50,359.91 484.00,360.05 484.50,360.19 485.00,360.33 485.50,360.47 486.00,360.61 486.50,360.75 487.00,360.89 487.50,361.03 488.00,361.17 488.50,361.31 489.00,361.45 489.50,361.59 490.00,361.73 490.50,361.87 491.00,362.01 491.50,362.15 492.00,362.29 492.50,362.43 493.00,362.57 493.50,362.71 494.00,362.85 494.50,362.99 495.00,363.13 495.50,363.28 496.00,363.42 496.50,363.56 497.00,363.70 497.50,363.84 498.00,363.98 498.50,364.13 499.00,364.27 499.50,364.41 500.00,364.55 500.50,364.70 501.00,364.84 501.50,364.98 502.00,365.13 502.50,365.27 503.00,365.41 503.50,365.56 504.00,365.70 504.50,365.84 505.00,365.99 505.50,366.13 506.00,366.27 506.50,366.42 507.00,366.56 507.50,366.71 508.00,366.85 508.50,367.00 509.00,367.14 509.50,367.29 510.00,367.43 510.50,367.58 511.00,367.73 511.50,367.87 512.00,368.02 512.50,368.16 513.00,368.31 513.50,368.46 514.00,368.60 514.50,368.75 515.00,368.90 515.50,369.04 516.00,369.19 516.50,369.34 517.00,369.49 517.50,369.64 518.00,369.78 518.50,369.93 519.00,370.08 519.50,370.23 520.00,370.38 520.50,370.53 521.00,370.68 521.50,370.83 522.00,370.98 522.50,371.13 523.00,371.28 523.50,371.43 524.00,371.58 524.50,371.73 525.00,371.88 525.50,372.03 526.00,372.18 526.50,372.33 527.00,372.48 527.50,372.64 528.00,372.79 528.50,372.94 529.00,373.09 529.50,373.25 530.00,373.40 530.50,373.55 531.00,373.71 531.50,373.86 532.00,374.02 532.50,374.17 533.00,374.32 533.50,374.48 534.00,374.63 534.50,374.79 535.00,374.94 535.50,375.10 536.00,375.26 536.50,375.41 537.00,375.57 537.50,375.73 538.00,375.88 538.50,376.04 539.00,376.20 539.50,376.35 540.00,376.51 540.50,376.67 541.00,376.83 541.50,376.99 542.00,377.15 542.50,377.31 543.00,377.47 543.50,377.63 544.00,377.79 544.50,377.95 545.00,378.11 545.50,378.27 546.00,378.43 546.50,378.59 547.00,378.75 547.50,378.91 548.00,379.08 548.50,379.24 549.00,379.40 549.50,379.56 550.00,379.73 550.50,379.89 551.00,380.06 551.50,380.22 552.00,380.38 552.50,380.55 553.00,380.71 553.50,380.88 554.00,381.05 554.50,381.21 555.00,381.38 555.50,381.54 556.00,381.71 556.50,381.88 557.00,382.05 557.50,382.21 558.00,382.38 558.50,382.55 559.00,382.72 559.50,382.89 560.00,383.06 560.50,383.23 561.00,383.40 561.50,383.57 562.00,383.74 562.50,383.91 563.00,384.08 563.50,384.25 564.00,384.43 564.50,384.60 565.00,384.77 565.50,384.94 566.00,385.12 566.50,385.29 567.00,385.47 567.50,385.64 568.00,385.81 568.50,385.99 569.00,386.17 569.50,386.34 570.00,386.52 570.50,386.69 571.00,386.87 571.50,387.05 572.00,387.23 572.50,387.40 573.00,387.58 573.50,387.76 574.00,387.94 574.50,388.12 575.00,388.30 575.50,388.48 576.00,388.66 576.50,388.84 577.00,389.02 577.50,389.20 578.00,389.39 578.50,389.57 579.00,389.75 579.50,389.93 580.00,390.12 580.50,390.30 581.00,390.49 581.50,390.67 582.00,390.86 582.50,391.04 583.00,391.23 583.50,391.41 584.00,391.60 584.50,391.79 585.00,391.97 585.50,392.16 586.00,392.35 586.50,392.54 587.00,392.73 587.50,392.92 588.00,393.11 588.50,393.30 589.00,393.49 589.50,393.68 590.00,393.87 590.50,394.06 591.00,394.26 591.50,394.45 592.00,394.64 592.50,394.83 593.00,395.03 593.50,395.22 594.00,395.42 594.50,395.61 595.00,395.81 595.50,396.01 596.00,396.20 596.50,396.40 597.00,396.60 597.50,396.79 598.00,396.99 598.50,397.19 599.00,397.39 599.50,397.59 600.00,397.79 600.50,397.99 601.00,398.19 601.50,398.39 602.00,398.60 602.50,398.80 603.00,399.00 603.50,399.20 604.00,399.41 604.50,399.61 605.00,399.82 605.50,400.02 606.00,400.23 606.50,400.43 607.00,400.64 607.50,400.85 608.00,401.06 608.50,401.26 609.00,401.47 609.50,401.68 610.00,401.89 610.50,402.10 611.00,402.31 611.50,402.52 612.00,402.73 612.50,402.94 613.00,403.16 613.50,403.37 614.00,403.58 614.50,403.80 615.00,404.01 615.50,404.23 616.00,404.44 616.50,404.66 617.00,404.87 617.50,405.09 618.00,405.31 618.50,405.53 619.00,405.74 619.50,405.96 620.00,406.18 620.50,406.40 621.00,406.62 621.50,406.84 622.00,407.07 622.50,407.29 623.00,407.51 623.50,407.73 624.00,407.96 624.50,408.18 625.00,408.41 625.50,408.64 626.00,408.86 626.50,409.09 627.00,409.32 627.50,409.55 628.00,409.78 628.50,410.01 629.00,410.24 629.50,410.47 630.00,410.70 630.50,410.94 631.00,411.17 631.50,411.41 632.00,411.64 632.50,411.88 633.00,412.12 633.50,412.36 634.00,412.60 634.50,412.84 635.00,413.08 635.50,413.32 636.00,413.56 636.50,413.81 637.00,414.05 637.50,414.30 638.00,414.54 638.50,414.79 639.00,415.04 639.50,415.29 640.00,415.54 640.50,415.79 641.00,416.04 641.50,416.29 642.00,416.55 642.50,416.80 643.00,417.06 643.50,417.32 644.00,417.57 644.50,417.83 645.00,418.09 645.50,418.36 646.00,418.62 646.50,418.88 647.00,419.15 647.50,419.41 648.00,419.68 648.50,419.95 649.00,420.22 649.50,420.49 650.00,420.76 650.50,421.03 651.00,421.31 651.50,421.58 652.00,421.86 652.50,422.14 653.00,422.42 653.50,422.70 654.00,422.98 654.50,423.27 655.00,423.56 655.50,423.85 656.00,424.15 656.50,424.45 657.00,424.76 657.50,425.07 658.00,425.39 658.50,425.71 659.00,426.04 659.50,426.37 660.00,426.71 660.50,427.06 661.00,427.42 661.50,427.78 662.00,428.15 662.50,428.53 663.00,428.92 663.50,429.32 664.00,429.73 664.50,430.14 665.00,430.57 665.50,431.01 666.00,431.45 666.50,431.91 667.00,432.38 667.50,432.87 668.00,433.36 668.50,433.87 669.00,434.39 669.50,434.92 670.00,435.47 670.50,436.03 671.00,436.61 671.50,437.20 672.00,437.80 672.50,438.43 673.00,439.06 673.50,439.71 674.00,440.38 674.50,441.07 675.00,441.77 675.50,442.49 675.70,442.79" fill="none" stroke="#36bf74" stroke-width="1.1" stroke-linejoin="round"/>
<polyline points="416.50,329.37 417.00,329.53 417.50,329.69 418.00,329.84 418.50,330.00 419.00,330.16 419.50,330.32 420.00,330.47 420.50,330.63 421.00,330.78 421.50,330.94 422.00,331.10 422.50,331.25 423.00,331.41 423.50,331.56 424.00,331.72 424.50,331.87 425.00,332.02 425.50,332.18 426.00,332.33 426.50,332.48 427.00,332.64 427.50,332.79 428.00,332.94 428.50,333.09 429.00,333.24 429.50,333.40 430.00,333.55 430.50,333.70 431.00,333.85 431.50,334.00 432.00,334.15 432.50,334.30 433.00,334.45 433.50,334.60 434.00,334.75 434.50,334.90 435.00,335.05 435.50,335.20 436.00,335.35 436.50,335.49 437.00,335.64 437.50,335.79 438.00,335.94 438.50,336.09 439.00,336.23 439.50,336.38 440.00,336.53 440.50,336.67 441.00,336.82 441.50,336.97 442.00,337.11 442.50,337.26 443.00,337.40 443.50,337.55 444.00,337.70 444.50,337.84 445.00,337.99 445.50,338.13 446.00,338.28 446.50,338.42 447.00,338.57 447.50,338.71 448.00,338.85 448.50,339.00 449.00,339.14 449.50,339.29 450.00,339.43 450.50,339.57 451.00,339.72 451.50,339.86 452.00,340.00 452.50,340.15 453.00,340.29 453.50,340.43 454.00,340.57 454.50,340.72 455.00,340.86 455.50,341.00 456.00,341.14 456.50,341.29 457.00,341.43 457.50,341.57 458.00,341.71 458.50,341.85 459.00,341.99 459.50,342.14 460.00,342.28 460.50,342.42 461.00,342.56 461.50,342.70 462.00,342.84 462.50,342.98 463.00,343.12 463.50,343.26 464.00,343.40 464.50,343.54 465.00,343.68 465.50,343.83 466.00,343.97 466.50,344.11 467.00,344.25 467.50,344.39 468.00,344.53 468.50,344.67 469.00,344.81 469.50,344.95 470.00,345.09 470.50,345.23 471.00,345.37 471.50,345.51 472.00,345.65 472.50,345.78 473.00,345.92 473.50,346.06 474.00,346.20 474.50,346.34 475.00,346.48 475.50,346.62 476.00,346.76 476.50,346.90 477.00,347.04 477.50,347.18 478.00,347.32 478.50,347.46 479.00,347.60 479.50,347.74 480.00,347.88 480.50,348.02 481.00,348.16 481.50,348.30 482.00,348.44 482.50,348.57 483.00,348.71 483.50,348.85 484.00,348.99 484.50,349.13 485.00,349.27 485.50,349.41 486.00,349.55 486.50,349.69 487.00,349.83 487.50,349.97 488.00,350.11 488.50,350.25 489.00,350.39 489.50,350.53 490.00,350.67 490.50,350.81 491.00,350.95 491.50,351.09 492.00,351.23 492.50,351.37 493.00,351.51 493.50,351.65 494.00,351.79 494.50,351.93 495.00,352.07 495.50,352.21 496.00,352.35 496.50,352.49 497.00,352.64 497.50,352.78 498.00,352.92 498.50,353.06 499.00,353.20 499.50,353.34 500.00,353.48 500.50,353.62 501.00,353.77 501.50,353.91 502.00,354.05 502.50,354.19 503.00,354.33 503.50,354.48 504.00,354.62 504.50,354.76 505.00,354.90 505.50,355.05 506.00,355.19 506.50,355.33 507.00,355.47 507.50,355.62 508.00,355.76 508.50,355.90 509.00,356.05 509.50,356.19 510.00,356.34 510.50,356.48 511.00,356.62 511.50,356.77 512.00,356.91 512.50,357.06 513.00,357.20 513.50,357.35 514.00,357.49 514.50,357.64 515.00,357.78 515.50,357.93 516.00,358.08 516.50,358.22 517.00,358.37 517.50,358.51 518.00,358.66 518.50,358.81 519.00,358.95 519.50,359.10 520.00,359.25 520.50,359.40 521.00,359.54 521.50,359.69 522.00,359.84 522.50,359.99 523.00,360.14 523.50,360.29 524.00,360.43 524.50,360.58 525.00,360.73 525.50,360.88 526.00,361.03 526.50,361.18 527.00,361.33 527.50,361.48 528.00,361.63 528.50,361.79 529.00,361.94 529.50,362.09 530.00,362.24 530.50,362.39 531.00,362.54 531.50,362.70 532.00,362.85 532.50,363.00 533.00,363.16 533.50,363.31 534.00,363.46 534.50,363.62 535.00,363.77 535.50,363.93 536.00,364.08 536.50,364.24 537.00,364.39 537.50,364.55 538.00,364.70 538.50,364.86 539.00,365.01 539.50,365.17 540.00,365.33 540.50,365.49 541.00,365.64 541.50,365.80 542.00,365.96 542.50,366.12 543.00,366.28 543.50,366.44 544.00,366.60 544.50,366.76 545.00,366.92 545.50,367.08 546.00,367.24 546.50,367.40 547.00,367.56 547.50,367.72 548.00,367.88 548.50,368.05 549.00,368.21 549.50,368.37 550.00,368.53 550.50,368.70 551.00,368.86 551.50,369.03 552.00,369.19 552.50,369.36 553.00,369.52 553.50,369.69 554.00,369.85 554.50,370.02 555.00,370.19 555.50,370.36 556.00,370.52 556.50,370.69 557.00,370.86 557.50,371.03 558.00,371.20 558.50,371.37 559.00,371.54 559.50,371.71 560.00,371.88 560.50,372.05 561.00,372.22 561.50,372.39 562.00,372.56 562.50,372.74 563.00,372.91 563.50,373.08 564.00,373.26 564.50,373.43 565.00,373.61 565.50,373.78 566.00,373.96 566.50,374.13 567.00,374.31 567.50,374.49 568.00,374.66 568.50,374.84 569.00,375.02 569.50,375.20 570.00,375.38 570.50,375.56 571.00,375.74 571.50,375.92 572.00,376.10 572.50,376.28 573.00,376.46 573.50,376.64 574.00,376.82 574.50,377.01 575.00,377.19 575.50,377.37 576.00,377.56 576.50,377.74 577.00,377.93 577.50,378.11 578.00,378.30 578.50,378.49 579.00,378.67 579.50,378.86 580.00,379.05 580.50,379.24 581.00,379.43 581.50,379.62 582.00,379.81 582.50,380.00 583.00,380.19 583.50,380.38 584.00,380.57 584.50,380.77 585.00,380.96 585.50,381.15 586.00,381.35 586.50,381.54 587.00,381.74 587.50,381.93 588.00,382.13 588.50,382.33 589.00,382.52 589.50,382.72 590.00,382.92 590.50,383.12 591.00,383.32 591.50,383.52 592.00,383.72 592.50,383.92 593.00,384.12 593.50,384.32 594.00,384.53 594.50,384.73 595.00,384.93 595.50,385.14 596.00,385.34 596.50,385.55 597.00,385.75 597.50,385.96 598.00,386.17 598.50,386.38 599.00,386.58 599.50,386.79 600.00,387.00 600.50,387.21 601.00,387.42 601.50,387.63 602.00,387.85 602.50,388.06 603.00,388.27 603.50,388.49 604.00,388.70 604.50,388.91 605.00,389.13 605.50,389.35 606.00,389.56 606.50,389.78 607.00,390.00 607.50,390.22 608.00,390.44 608.50,390.66 609.00,390.88 609.50,391.10 610.00,391.32 610.50,391.54 611.00,391.76 611.50,391.99 612.00,392.21 612.50,392.44 613.00,392.66 613.50,392.89 614.00,393.11 614.50,393.34 615.00,393.57 615.50,393.80 616.00,394.03 616.50,394.26 617.00,394.49 617.50,394.72 618.00,394.95 618.50,395.18 619.00,395.42 619.50,395.65 620.00,395.89 620.50,396.12 621.00,396.36 621.50,396.60 622.00,396.83 622.50,397.07 623.00,397.31 623.50,397.55 624.00,397.79 624.50,398.03 625.00,398.27 625.50,398.51 626.00,398.76 626.50,399.00 627.00,399.25 627.50,399.49 628.00,399.74 628.50,399.98 629.00,400.23 629.50,400.48 630.00,400.73 630.50,400.98 631.00,401.23 631.50,401.48 632.00,401.73 632.50,401.98 633.00,402.24 633.50,402.49 634.00,402.74 634.50,403.00 635.00,403.26 635.50,403.51 636.00,403.77 636.50,404.03 637.00,404.29 637.50,404.55 638.00,404.81 638.50,405.07 639.00,405.33 639.50,405.60 640.00,405.86 640.50,406.12 641.00,406.39 641.50,406.66 642.00,406.92 642.50,407.19 643.00,407.46 643.50,407.73 644.00,408.00 644.50,408.27 645.00,408.54 645.50,408.81 646.00,409.09 646.50,409.36 647.00,409.64 647.50,409.91 648.00,410.19 648.50,410.46 649.00,410.74 649.50,411.02 650.00,411.30 650.50,411.58 651.00,411.86 651.50,412.15 652.00,412.43 652.50,412.71 653.00,413.00 653.50,413.28 654.00,413.57 654.50,413.86 655.00,414.15 655.50,414.43 656.00,414.72 656.50,415.01 657.00,415.31 657.50,415.60 658.00,415.89 658.50,416.19 659.00,416.48 659.50,416.78 660.00,417.07 660.50,417.37 661.00,417.67 661.50,417.97 662.00,418.27 662.50,418.57 663.00,418.87 663.50,419.18 664.00,419.48 664.50,419.78 665.00,420.09 665.50,420.40 666.00,420.70 666.50,421.01 667.00,421.32 667.50,421.63 668.00,421.94 668.50,422.25 669.00,422.57 669.50,422.88 670.00,423.20 670.50,423.51 671.00,423.83 671.50,424.15 672.00,424.46 672.50,424.78 673.00,425.10 673.50,425.42 674.00,425.75 674.50,426.07 675.00,426.39 675.50,426.72 675.70,426.85" fill="none" stroke="#3b4f90" stroke-width="1.1" stroke-linejoin="round"/>
<line x1="591.50" y1="299.50" x2="601.90" y2="299.50" stroke="#30438a" stroke-width="1.3"/>
<text x="603.00" y="303.60" text-anchor="start" style="font-family:'Liberation Serif',serif;font-weight:bold;font-size:12.0px" fill="#000" >GGb</text>
<line x1="591.50" y1="345.00" x2="601.90" y2="345.00" stroke="#2fba68" stroke-width="1.3"/>
<text x="603.00" y="349.10" text-anchor="start" style="font-family:'Liberation Serif',serif;font-weight:bold;font-size:12.0px" fill="#000" >GG/dECMb</text>
<defs><pattern id="dots" width="3" height="3" patternUnits="userSpaceOnUse"><rect width="3" height="3" fill="#143078"/><rect x="1" y="0" width="1" height="3" fill="#1c3a82"/><rect x="1" y="1" width="1" height="1" fill="#5472b2"/></pattern><pattern id="hatch" width="3" height="3" patternUnits="userSpaceOnUse"><rect x="0" y="0" width="1" height="1" fill="#3cbb78"/><rect x="1" y="0" width="1" height="1" fill="#86d6aa"/><rect x="2" y="0" width="1" height="1" fill="#e6f9ee"/><rect x="1" y="1" width="1" height="1" fill="#3cbb78"/><rect x="2" y="1" width="1" height="1" fill="#86d6aa"/><rect x="0" y="1" width="1" height="1" fill="#e6f9ee"/><rect x="2" y="2" width="1" height="1" fill="#3cbb78"/><rect x="0" y="2" width="1" height="1" fill="#86d6aa"/><rect x="1" y="2" width="1" height="1" fill="#e6f9ee"/></pattern></defs>
<rect x="270.5" y="596.12" width="61.5" height="165.98" fill="url(#dots)"/>
<rect x="423.6" y="636.55" width="62" height="125.55" fill="url(#hatch)" stroke="#5a7890" stroke-width="0.8"/>
<line x1="301.60" y1="584.30" x2="301.60" y2="607.50" stroke="#8a8a8a" stroke-width="0.9"/>
<line x1="300.60" y1="584.30" x2="302.60" y2="584.30" stroke="#888" stroke-width="1"/>
<line x1="454.40" y1="616.60" x2="454.40" y2="656.50" stroke="#8a8a8a" stroke-width="0.9"/>
<line x1="453.40" y1="616.60" x2="455.40" y2="616.60" stroke="#888" stroke-width="1"/>
<line x1="225.20" y1="561.92" x2="225.20" y2="762.10" stroke="#b8c2d0" stroke-width="1.3"/>
<line x1="225.20" y1="762.10" x2="530.80" y2="762.10" stroke="#9a9a9a" stroke-width="1.8"/>
<line x1="221.20" y1="762.10" x2="225.00" y2="762.10" stroke="#8f949c" stroke-width="1"/>
<line x1="221.20" y1="757.11" x2="225.00" y2="757.11" stroke="#8f949c" stroke-width="1"/>
<line x1="221.20" y1="752.12" x2="225.00" y2="752.12" stroke="#8f949c" stroke-width="1"/>
<line x1="221.20" y1="747.12" x2="225.00" y2="747.12" stroke="#8f949c" stroke-width="1"/>
<line x1="221.20" y1="742.13" x2="225.00" y2="742.13" stroke="#8f949c" stroke-width="1"/>
<line x1="221.20" y1="737.14" x2="225.00" y2="737.14" stroke="#8f949c" stroke-width="1"/>
<line x1="221.20" y1="732.15" x2="225.00" y2="732.15" stroke="#8f949c" stroke-width="1"/>
<line x1="221.20" y1="727.16" x2="225.00" y2="727.16" stroke="#8f949c" stroke-width="1"/>
<line x1="221.20" y1="722.16" x2="225.00" y2="722.16" stroke="#8f949c" stroke-width="1"/>
<line x1="221.20" y1="717.17" x2="225.00" y2="717.17" stroke="#8f949c" stroke-width="1"/>
<line x1="221.20" y1="712.18" x2="225.00" y2="712.18" stroke="#8f949c" stroke-width="1"/>
<line x1="221.20" y1="707.19" x2="225.00" y2="707.19" stroke="#8f949c" stroke-width="1"/>
<line x1="221.20" y1="702.20" x2="225.00" y2="702.20" stroke="#8f949c" stroke-width="1"/>
<line x1="221.20" y1="697.20" x2="225.00" y2="697.20" stroke="#8f949c" stroke-width="1"/>
<line x1="221.20" y1="692.21" x2="225.00" y2="692.21" stroke="#8f949c" stroke-width="1"/>
<line x1="221.20" y1="687.22" x2="225.00" y2="687.22" stroke="#8f949c" stroke-width="1"/>
<line x1="221.20" y1="682.23" x2="225.00" y2="682.23" stroke="#8f949c" stroke-width="1"/>
<line x1="221.20" y1="677.24" x2="225.00" y2="677.24" stroke="#8f949c" stroke-width="1"/>
<line x1="221.20" y1="672.24" x2="225.00" y2="672.24" stroke="#8f949c" stroke-width="1"/>
<line x1="221.20" y1="667.25" x2="225.00" y2="667.25" stroke="#8f949c" stroke-width="1"/>
<line x1="221.20" y1="662.26" x2="225.00" y2="662.26" stroke="#8f949c" stroke-width="1"/>
<line x1="221.20" y1="657.27" x2="225.00" y2="657.27" stroke="#8f949c" stroke-width="1"/>
<line x1="221.20" y1="652.28" x2="225.00" y2="652.28" stroke="#8f949c" stroke-width="1"/>
<line x1="221.20" y1="647.28" x2="225.00" y2="647.28" stroke="#8f949c" stroke-width="1"/>
<line x1="221.20" y1="642.29" x2="225.00" y2="642.29" stroke="#8f949c" stroke-width="1"/>
<line x1="221.20" y1="637.30" x2="225.00" y2="637.30" stroke="#8f949c" stroke-width="1"/>
<line x1="221.20" y1="632.31" x2="225.00" y2="632.31" stroke="#8f949c" stroke-width="1"/>
<line x1="221.20" y1="627.32" x2="225.00" y2="627.32" stroke="#8f949c" stroke-width="1"/>
<line x1="221.20" y1="622.32" x2="225.00" y2="622.32" stroke="#8f949c" stroke-width="1"/>
<line x1="221.20" y1="617.33" x2="225.00" y2="617.33" stroke="#8f949c" stroke-width="1"/>
<line x1="221.20" y1="612.34" x2="225.00" y2="612.34" stroke="#8f949c" stroke-width="1"/>
<line x1="221.20" y1="607.35" x2="225.00" y2="607.35" stroke="#8f949c" stroke-width="1"/>
<line x1="221.20" y1="602.36" x2="225.00" y2="602.36" stroke="#8f949c" stroke-width="1"/>
<line x1="221.20" y1="597.36" x2="225.00" y2="597.36" stroke="#8f949c" stroke-width="1"/>
<line x1="221.20" y1="592.37" x2="225.00" y2="592.37" stroke="#8f949c" stroke-width="1"/>
<line x1="221.20" y1="587.38" x2="225.00" y2="587.38" stroke="#8f949c" stroke-width="1"/>
<line x1="221.20" y1="582.39" x2="225.00" y2="582.39" stroke="#8f949c" stroke-width="1"/>
<line x1="221.20" y1="577.40" x2="225.00" y2="577.40" stroke="#8f949c" stroke-width="1"/>
<line x1="221.20" y1="572.40" x2="225.00" y2="572.40" stroke="#8f949c" stroke-width="1"/>
<line x1="221.20" y1="567.41" x2="225.00" y2="567.41" stroke="#8f949c" stroke-width="1"/>
<line x1="221.20" y1="562.42" x2="225.00" y2="562.42" stroke="#8f949c" stroke-width="1"/>
<text x="214.60" y="766.30" text-anchor="end" style="font-family:'Liberation Serif',serif;font-weight:bold;font-size:12.5px" fill="#000" >0</text>
<text x="214.60" y="741.34" text-anchor="end" style="font-family:'Liberation Serif',serif;font-weight:bold;font-size:12.5px" fill="#000" >1</text>
<text x="214.60" y="716.38" text-anchor="end" style="font-family:'Liberation Serif',serif;font-weight:bold;font-size:12.5px" fill="#000" >2</text>
<text x="214.60" y="691.42" text-anchor="end" style="font-family:'Liberation Serif',serif;font-weight:bold;font-size:12.5px" fill="#000" >3</text>
<text x="214.60" y="666.46" text-anchor="end" style="font-family:'Liberation Serif',serif;font-weight:bold;font-size:12.5px" fill="#000" >4</text>
<text x="214.60" y="641.50" text-anchor="end" style="font-family:'Liberation Serif',serif;font-weight:bold;font-size:12.5px" fill="#000" >5</text>
<text x="214.60" y="616.54" text-anchor="end" style="font-family:'Liberation Serif',serif;font-weight:bold;font-size:12.5px" fill="#000" >6</text>
<text x="214.60" y="591.58" text-anchor="end" style="font-family:'Liberation Serif',serif;font-weight:bold;font-size:12.5px" fill="#000" >7</text>
<text x="214.60" y="566.62" text-anchor="end" style="font-family:'Liberation Serif',serif;font-weight:bold;font-size:12.5px" fill="#000" >8</text>
<text x="301.50" y="780.70" text-anchor="middle" style="font-family:'Liberation Serif',serif;font-weight:bold;font-size:12.4px" fill="#000" >GGb</text>
<text x="454.70" y="781.00" text-anchor="middle" style="font-family:'Liberation Serif',serif;font-weight:bold;font-size:12.4px" fill="#000" >GG/dECMb</text>
<text x="377.80" y="802.60" text-anchor="middle" style="font-family:'Liberation Serif',serif;font-weight:bold;font-size:18.8px" fill="#000" >Samples</text>
<text transform="translate(198.50,682.20) rotate(-90)" x="0" y="0" text-anchor="middle" style="font-family:'Liberation Serif',serif;font-weight:bold;font-size:19.2px">Cross-linking degree (%)</text>
<text x="508.80" y="567.60" text-anchor="middle" style="font-family:'Liberation Serif',serif;font-weight:bold;font-size:24.5px" fill="#000" >E</text>
</svg></body></html>
